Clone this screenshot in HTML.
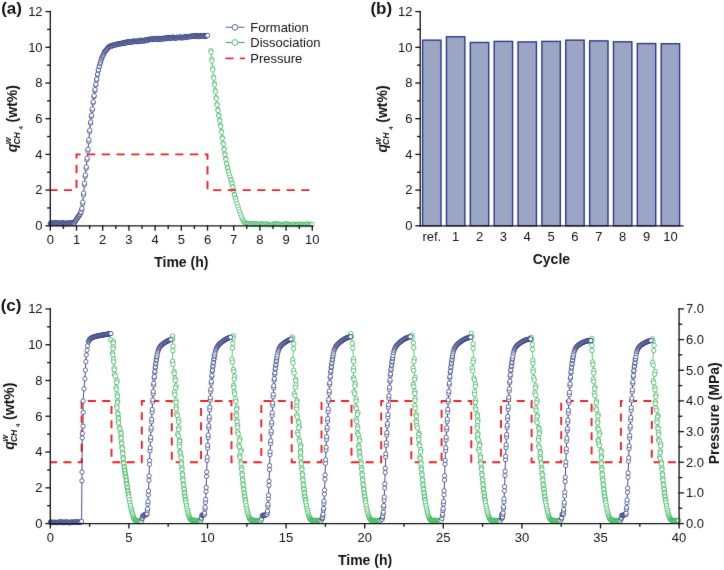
<!DOCTYPE html>
<html><head><meta charset="utf-8"><style>
html,body{margin:0;padding:0;background:#fff;width:724px;height:570px;overflow:hidden;}
svg{display:block;font-family:"Liberation Sans", sans-serif;}
</style></head><body>
<svg width="724" height="570" viewBox="0 0 724 570">
<defs><filter id="bl" x="0" y="0" width="724" height="570" filterUnits="userSpaceOnUse" color-interpolation-filters="sRGB"><feConvolveMatrix order="3" kernelMatrix="0.00524 0.06192 0.00524 0.06192 0.73137 0.06192 0.00524 0.06192 0.00524" edgeMode="duplicate"/></filter></defs>
<rect width="724" height="570" fill="#fff"/>
<g filter="url(#bl)">
<polyline fill="none" stroke="#1fae48" stroke-width="0.80"  points="210.90,50.50 211.77,59.33 212.65,68.19 213.52,76.97 214.39,83.60 215.27,90.42 216.14,97.53 217.01,103.98 217.89,109.63 218.76,114.95 219.63,119.92 220.51,125.27 221.38,131.18 222.25,137.34 223.13,143.32 224.00,148.72 224.87,153.79 225.75,158.62 226.62,163.20 227.49,167.34 228.37,171.07 229.24,174.35 230.11,177.09 230.99,179.74 231.86,182.89 232.73,186.62 233.61,190.46 234.48,194.35 235.35,197.83 236.23,200.88 237.10,203.72 237.97,206.50 238.85,209.19 239.72,211.79 240.59,214.26 241.47,216.68 242.34,218.85 243.21,220.68 244.09,221.99 244.96,222.75 245.83,223.24 246.71,223.50 247.58,223.39 248.45,223.74 249.33,223.78 250.20,224.27 251.07,223.75 251.95,223.65 252.82,224.41 253.69,224.08 254.57,223.79 255.44,224.12 256.31,223.72 257.19,224.13 258.06,224.51 258.93,224.42 259.81,224.30 260.68,223.96 261.55,224.06 262.43,223.91 263.30,224.40 264.17,224.22 265.05,224.43 265.92,224.08 266.79,224.00 267.67,224.48 268.54,224.63 269.41,224.53 270.29,224.50 271.16,224.52 272.03,224.46 272.91,224.06 273.78,224.30 274.65,224.18 275.53,223.92 276.40,223.93 277.27,224.13 278.15,224.12 279.02,224.47 279.89,224.69 280.77,224.29 281.64,224.68 282.51,224.73 283.39,224.71 284.26,224.24 285.13,224.13 286.01,224.14 286.88,224.12 287.75,224.13 288.63,224.46 289.50,224.69 290.37,224.64 291.25,224.36 292.12,224.50 292.99,224.62 293.87,224.05 294.74,224.51 295.61,224.71 296.49,224.61 297.36,224.59 298.23,224.37 299.11,224.13 299.98,224.62 300.85,224.26 301.73,224.64 302.60,224.77 303.47,224.31 304.35,224.32 305.22,224.76 306.09,224.58 306.97,224.13 307.84,224.10 308.71,224.12 309.59,224.72 310.46,224.65 311.33,224.12 312.21,224.66"/>
<g fill="#fff" stroke="#1fae48" stroke-width="0.62"><circle cx="210.90" cy="50.50" r="2.20"/><circle cx="211.06" cy="52.09" r="2.20"/><circle cx="211.77" cy="59.33" r="2.20"/><circle cx="211.93" cy="60.92" r="2.20"/><circle cx="212.65" cy="68.19" r="2.20"/><circle cx="212.80" cy="69.77" r="2.20"/><circle cx="213.52" cy="76.97" r="2.20"/><circle cx="213.68" cy="78.16" r="2.20"/><circle cx="214.39" cy="83.60" r="2.20"/><circle cx="214.55" cy="84.83" r="2.20"/><circle cx="215.27" cy="90.42" r="2.20"/><circle cx="215.42" cy="91.70" r="2.20"/><circle cx="216.14" cy="97.53" r="2.20"/><circle cx="216.30" cy="98.69" r="2.20"/><circle cx="217.01" cy="103.98" r="2.20"/><circle cx="217.17" cy="105.00" r="2.20"/><circle cx="217.89" cy="109.63" r="2.20"/><circle cx="218.04" cy="110.59" r="2.20"/><circle cx="218.76" cy="114.95" r="2.20"/><circle cx="218.92" cy="115.84" r="2.20"/><circle cx="219.63" cy="119.92" r="2.20"/><circle cx="219.79" cy="120.88" r="2.20"/><circle cx="220.51" cy="125.27" r="2.20"/><circle cx="220.66" cy="126.33" r="2.20"/><circle cx="221.38" cy="131.18" r="2.20"/><circle cx="221.54" cy="132.29" r="2.20"/><circle cx="222.25" cy="137.34" r="2.20"/><circle cx="222.41" cy="138.42" r="2.20"/><circle cx="223.13" cy="143.32" r="2.20"/><circle cx="223.28" cy="144.29" r="2.20"/><circle cx="224.00" cy="148.72" r="2.20"/><circle cx="224.16" cy="149.63" r="2.20"/><circle cx="224.87" cy="153.79" r="2.20"/><circle cx="225.03" cy="154.66" r="2.20"/><circle cx="225.75" cy="158.62" r="2.20"/><circle cx="225.90" cy="159.45" r="2.20"/><circle cx="226.62" cy="163.20" r="2.20"/><circle cx="226.78" cy="163.94" r="2.20"/><circle cx="227.49" cy="167.34" r="2.20"/><circle cx="227.65" cy="168.01" r="2.20"/><circle cx="228.37" cy="171.07" r="2.20"/><circle cx="228.52" cy="171.66" r="2.20"/><circle cx="229.24" cy="174.35" r="2.20"/><circle cx="230.11" cy="177.09" r="2.20"/><circle cx="230.99" cy="179.74" r="2.20"/><circle cx="231.14" cy="180.31" r="2.20"/><circle cx="231.86" cy="182.89" r="2.20"/><circle cx="232.02" cy="183.56" r="2.20"/><circle cx="232.73" cy="186.62" r="2.20"/><circle cx="232.89" cy="187.31" r="2.20"/><circle cx="233.61" cy="190.46" r="2.20"/><circle cx="233.76" cy="191.16" r="2.20"/><circle cx="234.48" cy="194.35" r="2.20"/><circle cx="234.64" cy="194.98" r="2.20"/><circle cx="235.35" cy="197.83" r="2.20"/><circle cx="235.51" cy="198.38" r="2.20"/><circle cx="236.23" cy="200.88" r="2.20"/><circle cx="237.10" cy="203.72" r="2.20"/><circle cx="237.97" cy="206.50" r="2.20"/><circle cx="238.85" cy="209.19" r="2.20"/><circle cx="239.72" cy="211.79" r="2.20"/><circle cx="240.59" cy="214.26" r="2.20"/><circle cx="241.47" cy="216.68" r="2.20"/><circle cx="242.34" cy="218.85" r="2.20"/><circle cx="243.21" cy="220.68" r="2.20"/><circle cx="244.09" cy="221.99" r="2.20"/><circle cx="244.96" cy="222.75" r="2.20"/><circle cx="245.83" cy="223.24" r="2.20"/><circle cx="246.71" cy="223.50" r="2.20"/><circle cx="247.58" cy="223.39" r="2.20"/><circle cx="248.45" cy="223.74" r="2.20"/><circle cx="249.33" cy="223.78" r="2.20"/><circle cx="250.20" cy="224.27" r="2.20"/><circle cx="251.07" cy="223.75" r="2.20"/><circle cx="251.95" cy="223.65" r="2.20"/><circle cx="252.82" cy="224.41" r="2.20"/><circle cx="253.69" cy="224.08" r="2.20"/><circle cx="254.57" cy="223.79" r="2.20"/><circle cx="255.44" cy="224.12" r="2.20"/><circle cx="256.31" cy="223.72" r="2.20"/><circle cx="257.19" cy="224.13" r="2.20"/><circle cx="258.06" cy="224.51" r="2.20"/><circle cx="258.93" cy="224.42" r="2.20"/><circle cx="259.81" cy="224.30" r="2.20"/><circle cx="260.68" cy="223.96" r="2.20"/><circle cx="261.55" cy="224.06" r="2.20"/><circle cx="262.43" cy="223.91" r="2.20"/><circle cx="263.30" cy="224.40" r="2.20"/><circle cx="264.17" cy="224.22" r="2.20"/><circle cx="265.05" cy="224.43" r="2.20"/><circle cx="265.92" cy="224.08" r="2.20"/><circle cx="266.79" cy="224.00" r="2.20"/><circle cx="267.67" cy="224.48" r="2.20"/><circle cx="268.54" cy="224.63" r="2.20"/><circle cx="269.41" cy="224.53" r="2.20"/><circle cx="270.29" cy="224.50" r="2.20"/><circle cx="271.16" cy="224.52" r="2.20"/><circle cx="272.03" cy="224.46" r="2.20"/><circle cx="272.91" cy="224.06" r="2.20"/><circle cx="273.78" cy="224.30" r="2.20"/><circle cx="274.65" cy="224.18" r="2.20"/><circle cx="275.53" cy="223.92" r="2.20"/><circle cx="276.40" cy="223.93" r="2.20"/><circle cx="277.27" cy="224.13" r="2.20"/><circle cx="278.15" cy="224.12" r="2.20"/><circle cx="279.02" cy="224.47" r="2.20"/><circle cx="279.89" cy="224.69" r="2.20"/><circle cx="280.77" cy="224.29" r="2.20"/><circle cx="281.64" cy="224.68" r="2.20"/><circle cx="282.51" cy="224.73" r="2.20"/><circle cx="283.39" cy="224.71" r="2.20"/><circle cx="284.26" cy="224.24" r="2.20"/><circle cx="285.13" cy="224.13" r="2.20"/><circle cx="286.01" cy="224.14" r="2.20"/><circle cx="286.88" cy="224.12" r="2.20"/><circle cx="287.75" cy="224.13" r="2.20"/><circle cx="288.63" cy="224.46" r="2.20"/><circle cx="289.50" cy="224.69" r="2.20"/><circle cx="290.37" cy="224.64" r="2.20"/><circle cx="291.25" cy="224.36" r="2.20"/><circle cx="292.12" cy="224.50" r="2.20"/><circle cx="292.99" cy="224.62" r="2.20"/><circle cx="293.87" cy="224.05" r="2.20"/><circle cx="294.74" cy="224.51" r="2.20"/><circle cx="295.61" cy="224.71" r="2.20"/><circle cx="296.49" cy="224.61" r="2.20"/><circle cx="297.36" cy="224.59" r="2.20"/><circle cx="298.23" cy="224.37" r="2.20"/><circle cx="299.11" cy="224.13" r="2.20"/><circle cx="299.98" cy="224.62" r="2.20"/><circle cx="300.85" cy="224.26" r="2.20"/><circle cx="301.73" cy="224.64" r="2.20"/><circle cx="302.60" cy="224.77" r="2.20"/><circle cx="303.47" cy="224.31" r="2.20"/><circle cx="304.35" cy="224.32" r="2.20"/><circle cx="305.22" cy="224.76" r="2.20"/><circle cx="306.09" cy="224.58" r="2.20"/><circle cx="306.97" cy="224.13" r="2.20"/><circle cx="307.84" cy="224.10" r="2.20"/><circle cx="308.71" cy="224.12" r="2.20"/><circle cx="309.59" cy="224.72" r="2.20"/><circle cx="310.46" cy="224.65" r="2.20"/><circle cx="311.33" cy="224.12" r="2.20"/><circle cx="312.21" cy="224.66" r="2.20"/></g>
<polyline fill="none" stroke="#16236c" stroke-width="0.80"  points="50.30,223.24 51.17,223.09 52.05,223.54 52.92,223.01 53.79,223.43 54.67,223.28 55.54,223.00 56.41,223.40 57.29,222.98 58.16,223.33 59.03,223.01 59.91,223.02 60.78,223.32 61.65,223.68 62.53,223.04 63.40,223.13 64.27,223.49 65.15,223.77 66.02,223.44 66.89,223.27 67.77,223.78 68.64,222.94 69.51,223.66 70.39,223.14 71.26,223.00 72.13,222.97 73.01,223.13 73.88,223.40 74.75,221.95 75.63,220.68 76.50,219.30 77.37,218.07 78.25,216.87 79.12,215.76 79.99,214.41 80.87,212.50 81.74,209.46 82.61,203.74 83.49,194.95 84.36,184.72 85.23,176.35 86.11,168.48 86.98,159.70 87.85,151.02 88.73,141.54 89.60,131.70 90.47,123.24 91.35,116.53 92.22,110.21 93.09,102.79 93.97,96.73 94.84,90.56 95.71,85.19 96.59,79.94 97.46,74.88 98.33,70.40 99.21,66.68 100.08,63.52 100.95,60.64 101.83,58.06 102.70,55.89 103.57,54.00 104.45,52.15 105.32,51.18 106.19,50.08 107.07,48.78 107.94,48.09 108.81,47.03 109.69,46.49 110.56,46.17 111.43,46.20 112.31,45.62 113.18,45.19 114.05,45.14 114.93,44.75 115.80,44.37 116.67,44.58 117.55,44.28 118.42,43.67 119.29,43.78 120.17,43.55 121.04,43.69 121.91,43.40 122.79,42.84 123.66,43.31 124.53,42.39 125.41,42.52 126.28,42.69 127.15,42.01 128.03,42.19 128.90,41.66 129.77,42.11 130.65,42.08 131.52,41.80 132.39,41.97 133.27,41.36 134.14,41.61 135.01,41.42 135.89,41.31 136.76,41.10 137.63,41.35 138.51,41.34 139.38,40.82 140.25,40.89 141.13,40.25 142.00,40.73 142.87,40.58 143.75,40.80 144.62,40.55 145.49,39.97 146.37,39.97 147.24,40.13 148.11,39.45 148.99,39.76 149.86,39.40 150.73,39.27 151.61,39.13 152.48,39.68 153.35,39.03 154.23,39.05 155.10,39.10 155.97,39.45 156.85,38.67 157.72,38.92 158.59,38.93 159.47,39.16 160.34,39.03 161.21,39.00 162.09,38.40 162.96,38.45 163.83,38.33 164.71,38.74 165.58,38.73 166.45,37.94 167.33,37.90 168.20,37.89 169.07,37.83 169.95,37.99 170.82,38.02 171.69,37.67 172.57,37.38 173.44,37.70 174.31,37.60 175.19,37.72 176.06,38.01 176.93,37.72 177.81,37.51 178.68,37.55 179.55,37.56 180.43,36.94 181.30,37.66 182.17,37.50 183.05,37.53 183.92,37.41 184.79,37.00 185.67,36.96 186.54,36.64 187.41,37.07 188.29,36.50 189.16,36.46 190.03,36.54 190.91,36.44 191.78,36.55 192.65,36.24 193.53,36.15 194.40,36.23 195.27,36.14 196.15,36.33 197.02,35.97 197.89,36.69 198.77,36.40 199.64,35.94 200.51,35.98 201.39,36.02 202.26,35.99 203.13,35.72 204.01,36.33 204.88,36.41 205.75,35.89 206.63,35.85 207.50,35.45"/>
<g fill="#fff" stroke="#16236c" stroke-width="0.62"><circle cx="50.30" cy="223.24" r="2.20"/><circle cx="50.74" cy="223.64" r="2.20"/><circle cx="51.17" cy="223.09" r="2.20"/><circle cx="51.61" cy="223.47" r="2.20"/><circle cx="52.05" cy="223.54" r="2.20"/><circle cx="52.48" cy="223.13" r="2.20"/><circle cx="52.92" cy="223.01" r="2.20"/><circle cx="53.36" cy="223.27" r="2.20"/><circle cx="53.79" cy="223.43" r="2.20"/><circle cx="54.23" cy="222.99" r="2.20"/><circle cx="54.67" cy="223.28" r="2.20"/><circle cx="55.10" cy="222.65" r="2.20"/><circle cx="55.54" cy="223.00" r="2.20"/><circle cx="55.98" cy="223.67" r="2.20"/><circle cx="56.41" cy="223.40" r="2.20"/><circle cx="56.85" cy="223.34" r="2.20"/><circle cx="57.29" cy="222.98" r="2.20"/><circle cx="57.72" cy="223.18" r="2.20"/><circle cx="58.16" cy="223.33" r="2.20"/><circle cx="58.60" cy="223.60" r="2.20"/><circle cx="59.03" cy="223.01" r="2.20"/><circle cx="59.47" cy="222.95" r="2.20"/><circle cx="59.91" cy="223.02" r="2.20"/><circle cx="60.34" cy="223.54" r="2.20"/><circle cx="60.78" cy="223.32" r="2.20"/><circle cx="61.22" cy="223.83" r="2.20"/><circle cx="61.65" cy="223.68" r="2.20"/><circle cx="62.09" cy="223.07" r="2.20"/><circle cx="62.53" cy="223.04" r="2.20"/><circle cx="62.96" cy="222.84" r="2.20"/><circle cx="63.40" cy="223.13" r="2.20"/><circle cx="63.84" cy="223.10" r="2.20"/><circle cx="64.27" cy="223.49" r="2.20"/><circle cx="64.71" cy="223.37" r="2.20"/><circle cx="65.15" cy="223.77" r="2.20"/><circle cx="65.58" cy="223.69" r="2.20"/><circle cx="66.02" cy="223.44" r="2.20"/><circle cx="66.46" cy="223.11" r="2.20"/><circle cx="66.89" cy="223.27" r="2.20"/><circle cx="67.33" cy="223.44" r="2.20"/><circle cx="67.77" cy="223.78" r="2.20"/><circle cx="68.20" cy="222.99" r="2.20"/><circle cx="68.64" cy="222.94" r="2.20"/><circle cx="69.08" cy="223.71" r="2.20"/><circle cx="69.51" cy="223.66" r="2.20"/><circle cx="69.95" cy="223.26" r="2.20"/><circle cx="70.39" cy="223.14" r="2.20"/><circle cx="70.82" cy="223.03" r="2.20"/><circle cx="71.26" cy="223.00" r="2.20"/><circle cx="71.70" cy="223.07" r="2.20"/><circle cx="72.13" cy="222.97" r="2.20"/><circle cx="72.57" cy="223.46" r="2.20"/><circle cx="73.01" cy="223.13" r="2.20"/><circle cx="73.44" cy="223.19" r="2.20"/><circle cx="73.88" cy="223.40" r="2.20"/><circle cx="74.32" cy="223.09" r="2.20"/><circle cx="74.75" cy="221.95" r="2.20"/><circle cx="75.19" cy="221.31" r="2.20"/><circle cx="75.63" cy="220.68" r="2.20"/><circle cx="76.06" cy="220.02" r="2.20"/><circle cx="76.50" cy="219.30" r="2.20"/><circle cx="76.94" cy="218.71" r="2.20"/><circle cx="77.37" cy="218.07" r="2.20"/><circle cx="77.81" cy="216.99" r="2.20"/><circle cx="78.25" cy="216.87" r="2.20"/><circle cx="78.68" cy="216.25" r="2.20"/><circle cx="79.12" cy="215.76" r="2.20"/><circle cx="79.56" cy="214.77" r="2.20"/><circle cx="79.99" cy="214.41" r="2.20"/><circle cx="80.43" cy="212.96" r="2.20"/><circle cx="80.87" cy="212.50" r="2.20"/><circle cx="81.02" cy="211.96" r="2.20"/><circle cx="81.74" cy="209.46" r="2.20"/><circle cx="81.90" cy="208.43" r="2.20"/><circle cx="82.61" cy="203.74" r="2.20"/><circle cx="82.77" cy="202.15" r="2.20"/><circle cx="83.49" cy="194.95" r="2.20"/><circle cx="83.64" cy="193.11" r="2.20"/><circle cx="84.36" cy="184.72" r="2.20"/><circle cx="84.52" cy="183.22" r="2.20"/><circle cx="85.23" cy="176.35" r="2.20"/><circle cx="85.39" cy="174.94" r="2.20"/><circle cx="86.11" cy="168.48" r="2.20"/><circle cx="86.26" cy="166.90" r="2.20"/><circle cx="86.98" cy="159.70" r="2.20"/><circle cx="87.14" cy="158.14" r="2.20"/><circle cx="87.85" cy="151.02" r="2.20"/><circle cx="88.01" cy="149.31" r="2.20"/><circle cx="88.73" cy="141.54" r="2.20"/><circle cx="88.88" cy="139.76" r="2.20"/><circle cx="89.60" cy="131.70" r="2.20"/><circle cx="89.76" cy="130.17" r="2.20"/><circle cx="90.47" cy="123.24" r="2.20"/><circle cx="90.63" cy="122.03" r="2.20"/><circle cx="91.35" cy="116.53" r="2.20"/><circle cx="91.50" cy="115.39" r="2.20"/><circle cx="92.22" cy="110.21" r="2.20"/><circle cx="92.38" cy="108.87" r="2.20"/><circle cx="93.09" cy="102.79" r="2.20"/><circle cx="93.25" cy="101.70" r="2.20"/><circle cx="93.97" cy="96.73" r="2.20"/><circle cx="94.12" cy="95.62" r="2.20"/><circle cx="94.84" cy="90.56" r="2.20"/><circle cx="95.00" cy="89.59" r="2.20"/><circle cx="95.71" cy="85.19" r="2.20"/><circle cx="95.87" cy="84.25" r="2.20"/><circle cx="96.59" cy="79.94" r="2.20"/><circle cx="96.74" cy="79.03" r="2.20"/><circle cx="97.46" cy="74.88" r="2.20"/><circle cx="97.62" cy="74.07" r="2.20"/><circle cx="98.33" cy="70.40" r="2.20"/><circle cx="98.49" cy="69.73" r="2.20"/><circle cx="99.21" cy="66.68" r="2.20"/><circle cx="99.36" cy="66.11" r="2.20"/><circle cx="100.08" cy="63.52" r="2.20"/><circle cx="100.52" cy="62.38" r="2.20"/><circle cx="100.95" cy="60.64" r="2.20"/><circle cx="101.39" cy="59.02" r="2.20"/><circle cx="101.83" cy="58.06" r="2.20"/><circle cx="102.26" cy="56.95" r="2.20"/><circle cx="102.70" cy="55.89" r="2.20"/><circle cx="103.14" cy="55.17" r="2.20"/><circle cx="103.57" cy="54.00" r="2.20"/><circle cx="104.01" cy="53.13" r="2.20"/><circle cx="104.45" cy="52.15" r="2.20"/><circle cx="104.88" cy="51.49" r="2.20"/><circle cx="105.32" cy="51.18" r="2.20"/><circle cx="105.76" cy="50.65" r="2.20"/><circle cx="106.19" cy="50.08" r="2.20"/><circle cx="106.63" cy="49.49" r="2.20"/><circle cx="107.07" cy="48.78" r="2.20"/><circle cx="107.50" cy="48.72" r="2.20"/><circle cx="107.94" cy="48.09" r="2.20"/><circle cx="108.38" cy="47.17" r="2.20"/><circle cx="108.81" cy="47.03" r="2.20"/><circle cx="109.25" cy="46.82" r="2.20"/><circle cx="109.69" cy="46.49" r="2.20"/><circle cx="110.12" cy="46.08" r="2.20"/><circle cx="110.56" cy="46.17" r="2.20"/><circle cx="111.00" cy="45.96" r="2.20"/><circle cx="111.43" cy="46.20" r="2.20"/><circle cx="111.87" cy="46.18" r="2.20"/><circle cx="112.31" cy="45.62" r="2.20"/><circle cx="112.74" cy="45.41" r="2.20"/><circle cx="113.18" cy="45.19" r="2.20"/><circle cx="113.62" cy="45.23" r="2.20"/><circle cx="114.05" cy="45.14" r="2.20"/><circle cx="114.49" cy="45.21" r="2.20"/><circle cx="114.93" cy="44.75" r="2.20"/><circle cx="115.36" cy="44.97" r="2.20"/><circle cx="115.80" cy="44.37" r="2.20"/><circle cx="116.24" cy="44.42" r="2.20"/><circle cx="116.67" cy="44.58" r="2.20"/><circle cx="117.11" cy="44.55" r="2.20"/><circle cx="117.55" cy="44.28" r="2.20"/><circle cx="117.98" cy="43.99" r="2.20"/><circle cx="118.42" cy="43.67" r="2.20"/><circle cx="118.86" cy="43.74" r="2.20"/><circle cx="119.29" cy="43.78" r="2.20"/><circle cx="119.73" cy="43.86" r="2.20"/><circle cx="120.17" cy="43.55" r="2.20"/><circle cx="120.60" cy="43.58" r="2.20"/><circle cx="121.04" cy="43.69" r="2.20"/><circle cx="121.48" cy="43.58" r="2.20"/><circle cx="121.91" cy="43.40" r="2.20"/><circle cx="122.35" cy="43.10" r="2.20"/><circle cx="122.79" cy="42.84" r="2.20"/><circle cx="123.22" cy="43.52" r="2.20"/><circle cx="123.66" cy="43.31" r="2.20"/><circle cx="124.10" cy="43.05" r="2.20"/><circle cx="124.53" cy="42.39" r="2.20"/><circle cx="124.97" cy="42.83" r="2.20"/><circle cx="125.41" cy="42.52" r="2.20"/><circle cx="125.84" cy="43.04" r="2.20"/><circle cx="126.28" cy="42.69" r="2.20"/><circle cx="126.72" cy="42.11" r="2.20"/><circle cx="127.15" cy="42.01" r="2.20"/><circle cx="127.59" cy="42.16" r="2.20"/><circle cx="128.03" cy="42.19" r="2.20"/><circle cx="128.46" cy="42.37" r="2.20"/><circle cx="128.90" cy="41.66" r="2.20"/><circle cx="129.34" cy="42.22" r="2.20"/><circle cx="129.77" cy="42.11" r="2.20"/><circle cx="130.21" cy="41.73" r="2.20"/><circle cx="130.65" cy="42.08" r="2.20"/><circle cx="131.08" cy="41.56" r="2.20"/><circle cx="131.52" cy="41.80" r="2.20"/><circle cx="131.96" cy="41.83" r="2.20"/><circle cx="132.39" cy="41.97" r="2.20"/><circle cx="132.83" cy="41.24" r="2.20"/><circle cx="133.27" cy="41.36" r="2.20"/><circle cx="133.70" cy="41.23" r="2.20"/><circle cx="134.14" cy="41.61" r="2.20"/><circle cx="134.58" cy="41.09" r="2.20"/><circle cx="135.01" cy="41.42" r="2.20"/><circle cx="135.45" cy="41.53" r="2.20"/><circle cx="135.89" cy="41.31" r="2.20"/><circle cx="136.32" cy="41.49" r="2.20"/><circle cx="136.76" cy="41.10" r="2.20"/><circle cx="137.20" cy="41.62" r="2.20"/><circle cx="137.63" cy="41.35" r="2.20"/><circle cx="138.07" cy="41.00" r="2.20"/><circle cx="138.51" cy="41.34" r="2.20"/><circle cx="138.94" cy="41.30" r="2.20"/><circle cx="139.38" cy="40.82" r="2.20"/><circle cx="139.82" cy="41.02" r="2.20"/><circle cx="140.25" cy="40.89" r="2.20"/><circle cx="140.69" cy="40.22" r="2.20"/><circle cx="141.13" cy="40.25" r="2.20"/><circle cx="141.56" cy="40.87" r="2.20"/><circle cx="142.00" cy="40.73" r="2.20"/><circle cx="142.44" cy="41.12" r="2.20"/><circle cx="142.87" cy="40.58" r="2.20"/><circle cx="143.31" cy="40.41" r="2.20"/><circle cx="143.75" cy="40.80" r="2.20"/><circle cx="144.18" cy="41.13" r="2.20"/><circle cx="144.62" cy="40.55" r="2.20"/><circle cx="145.06" cy="40.16" r="2.20"/><circle cx="145.49" cy="39.97" r="2.20"/><circle cx="145.93" cy="39.95" r="2.20"/><circle cx="146.37" cy="39.97" r="2.20"/><circle cx="146.80" cy="40.54" r="2.20"/><circle cx="147.24" cy="40.13" r="2.20"/><circle cx="147.68" cy="40.12" r="2.20"/><circle cx="148.11" cy="39.45" r="2.20"/><circle cx="148.55" cy="39.27" r="2.20"/><circle cx="148.99" cy="39.76" r="2.20"/><circle cx="149.42" cy="39.51" r="2.20"/><circle cx="149.86" cy="39.40" r="2.20"/><circle cx="150.30" cy="39.35" r="2.20"/><circle cx="150.73" cy="39.27" r="2.20"/><circle cx="151.17" cy="39.04" r="2.20"/><circle cx="151.61" cy="39.13" r="2.20"/><circle cx="152.04" cy="39.10" r="2.20"/><circle cx="152.48" cy="39.68" r="2.20"/><circle cx="152.92" cy="39.17" r="2.20"/><circle cx="153.35" cy="39.03" r="2.20"/><circle cx="153.79" cy="39.26" r="2.20"/><circle cx="154.23" cy="39.05" r="2.20"/><circle cx="154.66" cy="38.60" r="2.20"/><circle cx="155.10" cy="39.10" r="2.20"/><circle cx="155.54" cy="39.33" r="2.20"/><circle cx="155.97" cy="39.45" r="2.20"/><circle cx="156.41" cy="39.00" r="2.20"/><circle cx="156.85" cy="38.67" r="2.20"/><circle cx="157.28" cy="38.31" r="2.20"/><circle cx="157.72" cy="38.92" r="2.20"/><circle cx="158.16" cy="38.76" r="2.20"/><circle cx="158.59" cy="38.93" r="2.20"/><circle cx="159.03" cy="39.17" r="2.20"/><circle cx="159.47" cy="39.16" r="2.20"/><circle cx="159.90" cy="39.11" r="2.20"/><circle cx="160.34" cy="39.03" r="2.20"/><circle cx="160.78" cy="38.58" r="2.20"/><circle cx="161.21" cy="39.00" r="2.20"/><circle cx="161.65" cy="39.18" r="2.20"/><circle cx="162.09" cy="38.40" r="2.20"/><circle cx="162.52" cy="38.71" r="2.20"/><circle cx="162.96" cy="38.45" r="2.20"/><circle cx="163.40" cy="38.86" r="2.20"/><circle cx="163.83" cy="38.33" r="2.20"/><circle cx="164.27" cy="38.14" r="2.20"/><circle cx="164.71" cy="38.74" r="2.20"/><circle cx="165.14" cy="38.50" r="2.20"/><circle cx="165.58" cy="38.73" r="2.20"/><circle cx="166.02" cy="37.88" r="2.20"/><circle cx="166.45" cy="37.94" r="2.20"/><circle cx="166.89" cy="38.20" r="2.20"/><circle cx="167.33" cy="37.90" r="2.20"/><circle cx="167.76" cy="37.66" r="2.20"/><circle cx="168.20" cy="37.89" r="2.20"/><circle cx="168.64" cy="37.49" r="2.20"/><circle cx="169.07" cy="37.83" r="2.20"/><circle cx="169.51" cy="37.83" r="2.20"/><circle cx="169.95" cy="37.99" r="2.20"/><circle cx="170.38" cy="38.42" r="2.20"/><circle cx="170.82" cy="38.02" r="2.20"/><circle cx="171.26" cy="38.17" r="2.20"/><circle cx="171.69" cy="37.67" r="2.20"/><circle cx="172.13" cy="37.28" r="2.20"/><circle cx="172.57" cy="37.38" r="2.20"/><circle cx="173.00" cy="37.19" r="2.20"/><circle cx="173.44" cy="37.70" r="2.20"/><circle cx="173.88" cy="38.07" r="2.20"/><circle cx="174.31" cy="37.60" r="2.20"/><circle cx="174.75" cy="37.73" r="2.20"/><circle cx="175.19" cy="37.72" r="2.20"/><circle cx="175.62" cy="38.07" r="2.20"/><circle cx="176.06" cy="38.01" r="2.20"/><circle cx="176.50" cy="37.46" r="2.20"/><circle cx="176.93" cy="37.72" r="2.20"/><circle cx="177.37" cy="37.18" r="2.20"/><circle cx="177.81" cy="37.51" r="2.20"/><circle cx="178.24" cy="37.72" r="2.20"/><circle cx="178.68" cy="37.55" r="2.20"/><circle cx="179.12" cy="37.48" r="2.20"/><circle cx="179.55" cy="37.56" r="2.20"/><circle cx="179.99" cy="36.82" r="2.20"/><circle cx="180.43" cy="36.94" r="2.20"/><circle cx="180.86" cy="37.74" r="2.20"/><circle cx="181.30" cy="37.66" r="2.20"/><circle cx="181.74" cy="37.71" r="2.20"/><circle cx="182.17" cy="37.50" r="2.20"/><circle cx="182.61" cy="37.82" r="2.20"/><circle cx="183.05" cy="37.53" r="2.20"/><circle cx="183.48" cy="37.06" r="2.20"/><circle cx="183.92" cy="37.41" r="2.20"/><circle cx="184.36" cy="37.56" r="2.20"/><circle cx="184.79" cy="37.00" r="2.20"/><circle cx="185.23" cy="36.54" r="2.20"/><circle cx="185.67" cy="36.96" r="2.20"/><circle cx="186.10" cy="37.16" r="2.20"/><circle cx="186.54" cy="36.64" r="2.20"/><circle cx="186.98" cy="36.81" r="2.20"/><circle cx="187.41" cy="37.07" r="2.20"/><circle cx="187.85" cy="36.63" r="2.20"/><circle cx="188.29" cy="36.50" r="2.20"/><circle cx="188.72" cy="36.53" r="2.20"/><circle cx="189.16" cy="36.46" r="2.20"/><circle cx="189.60" cy="36.92" r="2.20"/><circle cx="190.03" cy="36.54" r="2.20"/><circle cx="190.47" cy="36.26" r="2.20"/><circle cx="190.91" cy="36.44" r="2.20"/><circle cx="191.34" cy="36.13" r="2.20"/><circle cx="191.78" cy="36.55" r="2.20"/><circle cx="192.22" cy="36.43" r="2.20"/><circle cx="192.65" cy="36.24" r="2.20"/><circle cx="193.09" cy="35.93" r="2.20"/><circle cx="193.53" cy="36.15" r="2.20"/><circle cx="193.96" cy="35.80" r="2.20"/><circle cx="194.40" cy="36.23" r="2.20"/><circle cx="194.84" cy="35.85" r="2.20"/><circle cx="195.27" cy="36.14" r="2.20"/><circle cx="195.71" cy="35.78" r="2.20"/><circle cx="196.15" cy="36.33" r="2.20"/><circle cx="196.58" cy="35.85" r="2.20"/><circle cx="197.02" cy="35.97" r="2.20"/><circle cx="197.46" cy="36.14" r="2.20"/><circle cx="197.89" cy="36.69" r="2.20"/><circle cx="198.33" cy="36.35" r="2.20"/><circle cx="198.77" cy="36.40" r="2.20"/><circle cx="199.20" cy="36.43" r="2.20"/><circle cx="199.64" cy="35.94" r="2.20"/><circle cx="200.08" cy="35.75" r="2.20"/><circle cx="200.51" cy="35.98" r="2.20"/><circle cx="200.95" cy="36.00" r="2.20"/><circle cx="201.39" cy="36.02" r="2.20"/><circle cx="201.82" cy="35.68" r="2.20"/><circle cx="202.26" cy="35.99" r="2.20"/><circle cx="202.70" cy="35.70" r="2.20"/><circle cx="203.13" cy="35.72" r="2.20"/><circle cx="203.57" cy="35.54" r="2.20"/><circle cx="204.01" cy="36.33" r="2.20"/><circle cx="204.44" cy="36.12" r="2.20"/><circle cx="204.88" cy="36.41" r="2.20"/><circle cx="205.32" cy="35.66" r="2.20"/><circle cx="205.75" cy="35.89" r="2.20"/><circle cx="206.19" cy="36.10" r="2.20"/><circle cx="206.63" cy="35.85" r="2.20"/><circle cx="207.06" cy="35.70" r="2.20"/><circle cx="207.50" cy="35.45" r="2.20"/></g>
<polyline fill="none" stroke="#fa1e24" stroke-width="1.90" stroke-dasharray="8.2,6.5" stroke-dashoffset="1.0" points="50.30,190.10 76.50,190.10 76.50,154.40 207.50,154.40 207.50,190.10 312.30,190.10"/>
<g stroke="#181818" stroke-width="1.35" stroke-linecap="square"><line x1="50.30" y1="11.60" x2="50.30" y2="225.80"/><line x1="50.30" y1="225.80" x2="46.10" y2="225.80"/><line x1="50.30" y1="190.10" x2="46.10" y2="190.10"/><line x1="50.30" y1="154.40" x2="46.10" y2="154.40"/><line x1="50.30" y1="118.70" x2="46.10" y2="118.70"/><line x1="50.30" y1="83.00" x2="46.10" y2="83.00"/><line x1="50.30" y1="47.30" x2="46.10" y2="47.30"/><line x1="50.30" y1="11.60" x2="46.10" y2="11.60"/><line x1="50.30" y1="207.95" x2="47.80" y2="207.95"/><line x1="50.30" y1="172.25" x2="47.80" y2="172.25"/><line x1="50.30" y1="136.55" x2="47.80" y2="136.55"/><line x1="50.30" y1="100.85" x2="47.80" y2="100.85"/><line x1="50.30" y1="65.15" x2="47.80" y2="65.15"/><line x1="50.30" y1="29.45" x2="47.80" y2="29.45"/><line x1="50.30" y1="225.80" x2="312.30" y2="225.80"/><line x1="50.30" y1="225.80" x2="50.30" y2="230.00"/><line x1="76.50" y1="225.80" x2="76.50" y2="230.00"/><line x1="102.70" y1="225.80" x2="102.70" y2="230.00"/><line x1="128.90" y1="225.80" x2="128.90" y2="230.00"/><line x1="155.10" y1="225.80" x2="155.10" y2="230.00"/><line x1="181.30" y1="225.80" x2="181.30" y2="230.00"/><line x1="207.50" y1="225.80" x2="207.50" y2="230.00"/><line x1="233.70" y1="225.80" x2="233.70" y2="230.00"/><line x1="259.90" y1="225.80" x2="259.90" y2="230.00"/><line x1="286.10" y1="225.80" x2="286.10" y2="230.00"/><line x1="312.30" y1="225.80" x2="312.30" y2="230.00"/><line x1="63.40" y1="225.80" x2="63.40" y2="228.30"/><line x1="89.60" y1="225.80" x2="89.60" y2="228.30"/><line x1="115.80" y1="225.80" x2="115.80" y2="228.30"/><line x1="142.00" y1="225.80" x2="142.00" y2="228.30"/><line x1="168.20" y1="225.80" x2="168.20" y2="228.30"/><line x1="194.40" y1="225.80" x2="194.40" y2="228.30"/><line x1="220.60" y1="225.80" x2="220.60" y2="228.30"/><line x1="246.80" y1="225.80" x2="246.80" y2="228.30"/><line x1="273.00" y1="225.80" x2="273.00" y2="228.30"/><line x1="299.20" y1="225.80" x2="299.20" y2="228.30"/></g>
<line x1="225.7" y1="27.3" x2="244.5" y2="27.3" stroke="#6b78b2" stroke-width="1.2"/>
<circle cx="235" cy="27.3" r="2.9" fill="#fff" stroke="#4a589e" stroke-width="0.9"/>
<line x1="225.7" y1="42.5" x2="244.5" y2="42.5" stroke="#40b65c" stroke-width="1.2"/>
<circle cx="235" cy="42.5" r="2.9" fill="#fff" stroke="#45b962" stroke-width="0.9"/>
<line x1="225.3" y1="58.4" x2="233.6" y2="58.4" stroke="#fa1e24" stroke-width="1.6"/>
<line x1="239.8" y1="58.4" x2="245" y2="58.4" stroke="#fa1e24" stroke-width="1.6"/>
<rect x="422.60" y="40.16" width="18.4" height="185.64" fill="#9ba5c4" stroke="#2b3c8a" stroke-width="1.4"/>
<rect x="446.46" y="36.77" width="18.4" height="189.03" fill="#9ba5c4" stroke="#2b3c8a" stroke-width="1.4"/>
<rect x="470.32" y="42.48" width="18.4" height="183.32" fill="#9ba5c4" stroke="#2b3c8a" stroke-width="1.4"/>
<rect x="494.18" y="41.41" width="18.4" height="184.39" fill="#9ba5c4" stroke="#2b3c8a" stroke-width="1.4"/>
<rect x="518.04" y="41.94" width="18.4" height="183.86" fill="#9ba5c4" stroke="#2b3c8a" stroke-width="1.4"/>
<rect x="541.90" y="41.41" width="18.4" height="184.39" fill="#9ba5c4" stroke="#2b3c8a" stroke-width="1.4"/>
<rect x="565.76" y="40.16" width="18.4" height="185.64" fill="#9ba5c4" stroke="#2b3c8a" stroke-width="1.4"/>
<rect x="589.62" y="40.87" width="18.4" height="184.93" fill="#9ba5c4" stroke="#2b3c8a" stroke-width="1.4"/>
<rect x="613.48" y="41.77" width="18.4" height="184.03" fill="#9ba5c4" stroke="#2b3c8a" stroke-width="1.4"/>
<rect x="637.34" y="43.55" width="18.4" height="182.25" fill="#9ba5c4" stroke="#2b3c8a" stroke-width="1.4"/>
<rect x="661.20" y="43.73" width="18.4" height="182.07" fill="#9ba5c4" stroke="#2b3c8a" stroke-width="1.4"/>
<g stroke="#181818" stroke-width="1.35" stroke-linecap="square"><line x1="420.20" y1="11.60" x2="420.20" y2="225.80"/><line x1="420.20" y1="225.80" x2="416.00" y2="225.80"/><line x1="420.20" y1="190.10" x2="416.00" y2="190.10"/><line x1="420.20" y1="154.40" x2="416.00" y2="154.40"/><line x1="420.20" y1="118.70" x2="416.00" y2="118.70"/><line x1="420.20" y1="83.00" x2="416.00" y2="83.00"/><line x1="420.20" y1="47.30" x2="416.00" y2="47.30"/><line x1="420.20" y1="11.60" x2="416.00" y2="11.60"/><line x1="420.20" y1="207.95" x2="417.70" y2="207.95"/><line x1="420.20" y1="172.25" x2="417.70" y2="172.25"/><line x1="420.20" y1="136.55" x2="417.70" y2="136.55"/><line x1="420.20" y1="100.85" x2="417.70" y2="100.85"/><line x1="420.20" y1="65.15" x2="417.70" y2="65.15"/><line x1="420.20" y1="29.45" x2="417.70" y2="29.45"/><line x1="420.20" y1="225.80" x2="683.00" y2="225.80"/></g>
<polyline fill="none" stroke="#fa1e24" stroke-width="1.90" stroke-dasharray="8.0,6.305" stroke-dashoffset="1.2" points="50.30,462.26 81.60,462.26 81.60,400.93 111.50,400.93 111.50,462.26 141.80,462.26 141.80,400.93 171.80,400.93 171.80,462.26 201.00,462.26 201.00,400.93 231.50,400.93 231.50,462.26 261.30,462.26 261.30,400.93 291.70,400.93 291.70,462.26 321.50,462.26 321.50,400.93 351.50,400.93 351.50,462.26 381.20,462.26 381.20,400.93 411.30,400.93 411.30,462.26 441.60,462.26 441.60,400.93 471.30,400.93 471.30,462.26 501.00,462.26 501.00,400.93 531.60,400.93 531.60,462.26 561.20,462.26 561.20,400.93 591.60,400.93 591.60,462.26 620.90,462.26 620.90,400.93 651.80,400.93 651.80,462.26 679.10,462.26"/>
<polyline fill="none" stroke="#1fae48" stroke-width="0.70"  points="110.81,339.71 113.27,341.58 113.24,347.01 112.54,353.19 113.55,359.17 114.11,367.89 114.48,374.38 117.00,380.45 115.99,387.27 117.29,394.72 117.64,401.10 116.77,405.95 117.75,412.73 118.40,417.36 118.17,421.14 119.36,427.45 120.98,432.32 121.01,436.92 121.53,442.04 122.06,447.15 122.58,452.24 123.10,457.45 123.63,462.29 124.15,466.35 124.68,469.92 125.20,473.23 125.72,476.46 126.25,479.82 126.77,483.35 127.30,486.94 127.82,490.46 128.34,493.78 128.87,496.84 129.39,499.83 129.92,502.73 130.44,505.47 130.96,507.98 131.49,510.20 132.01,512.14 132.54,513.88 133.06,515.83 133.58,517.40 134.11,518.72 134.63,519.42 135.16,520.50 135.68,520.43 136.20,521.30 136.73,521.47 137.25,520.88 137.78,521.21 138.30,521.49 138.82,521.61 139.35,521.27 139.87,521.16 140.40,521.14 140.92,521.67 141.44,521.18"/>
<g fill="#fff" stroke="#1fae48" stroke-width="0.70"><circle cx="110.81" cy="339.71" r="2.25"/><circle cx="113.27" cy="341.58" r="2.25"/><circle cx="113.26" cy="343.21" r="2.25"/><circle cx="113.24" cy="347.01" r="2.25"/><circle cx="113.03" cy="348.86" r="2.25"/><circle cx="112.54" cy="353.19" r="2.25"/><circle cx="112.85" cy="354.99" r="2.25"/><circle cx="113.55" cy="359.17" r="2.25"/><circle cx="113.72" cy="361.79" r="2.25"/><circle cx="114.11" cy="367.89" r="2.25"/><circle cx="114.22" cy="369.83" r="2.25"/><circle cx="114.48" cy="374.38" r="2.25"/><circle cx="115.24" cy="376.20" r="2.25"/><circle cx="117.00" cy="380.45" r="2.25"/><circle cx="116.70" cy="382.49" r="2.25"/><circle cx="115.99" cy="387.27" r="2.25"/><circle cx="116.38" cy="389.50" r="2.25"/><circle cx="117.29" cy="394.72" r="2.25"/><circle cx="117.40" cy="396.63" r="2.25"/><circle cx="117.64" cy="401.10" r="2.25"/><circle cx="117.38" cy="402.55" r="2.25"/><circle cx="116.77" cy="405.95" r="2.25"/><circle cx="117.06" cy="407.98" r="2.25"/><circle cx="117.75" cy="412.73" r="2.25"/><circle cx="117.94" cy="414.11" r="2.25"/><circle cx="118.40" cy="417.36" r="2.25"/><circle cx="118.33" cy="418.49" r="2.25"/><circle cx="118.17" cy="421.14" r="2.25"/><circle cx="118.53" cy="423.03" r="2.25"/><circle cx="119.36" cy="427.45" r="2.25"/><circle cx="119.85" cy="428.91" r="2.25"/><circle cx="120.98" cy="432.32" r="2.25"/><circle cx="120.99" cy="433.70" r="2.25"/><circle cx="121.01" cy="436.92" r="2.25"/><circle cx="121.17" cy="438.46" r="2.25"/><circle cx="121.53" cy="442.04" r="2.25"/><circle cx="121.69" cy="443.57" r="2.25"/><circle cx="122.06" cy="447.15" r="2.25"/><circle cx="122.21" cy="448.68" r="2.25"/><circle cx="122.58" cy="452.24" r="2.25"/><circle cx="122.74" cy="453.80" r="2.25"/><circle cx="123.10" cy="457.45" r="2.25"/><circle cx="123.26" cy="458.90" r="2.25"/><circle cx="123.63" cy="462.29" r="2.25"/><circle cx="123.79" cy="463.51" r="2.25"/><circle cx="124.15" cy="466.35" r="2.25"/><circle cx="124.31" cy="467.42" r="2.25"/><circle cx="124.68" cy="469.92" r="2.25"/><circle cx="124.83" cy="470.92" r="2.25"/><circle cx="125.20" cy="473.23" r="2.25"/><circle cx="125.36" cy="474.20" r="2.25"/><circle cx="125.72" cy="476.46" r="2.25"/><circle cx="125.88" cy="477.47" r="2.25"/><circle cx="126.25" cy="479.82" r="2.25"/><circle cx="126.41" cy="480.88" r="2.25"/><circle cx="126.77" cy="483.35" r="2.25"/><circle cx="126.93" cy="484.43" r="2.25"/><circle cx="127.30" cy="486.94" r="2.25"/><circle cx="127.45" cy="488.00" r="2.25"/><circle cx="127.82" cy="490.46" r="2.25"/><circle cx="127.98" cy="491.46" r="2.25"/><circle cx="128.34" cy="493.78" r="2.25"/><circle cx="128.50" cy="494.70" r="2.25"/><circle cx="128.87" cy="496.84" r="2.25"/><circle cx="129.39" cy="499.83" r="2.25"/><circle cx="129.92" cy="502.73" r="2.25"/><circle cx="130.44" cy="505.47" r="2.25"/><circle cx="130.96" cy="507.98" r="2.25"/><circle cx="131.49" cy="510.20" r="2.25"/><circle cx="132.01" cy="512.14" r="2.25"/><circle cx="132.54" cy="513.88" r="2.25"/><circle cx="133.06" cy="515.83" r="2.25"/><circle cx="133.58" cy="517.40" r="2.25"/><circle cx="134.11" cy="518.72" r="2.25"/><circle cx="134.63" cy="519.42" r="2.25"/><circle cx="135.16" cy="520.50" r="2.25"/><circle cx="135.68" cy="520.43" r="2.25"/><circle cx="136.20" cy="521.30" r="2.25"/><circle cx="136.73" cy="521.47" r="2.25"/><circle cx="137.25" cy="520.88" r="2.25"/><circle cx="137.78" cy="521.21" r="2.25"/><circle cx="138.30" cy="521.49" r="2.25"/><circle cx="138.82" cy="521.61" r="2.25"/><circle cx="139.35" cy="521.27" r="2.25"/><circle cx="139.87" cy="521.16" r="2.25"/><circle cx="140.40" cy="521.14" r="2.25"/><circle cx="140.92" cy="521.67" r="2.25"/><circle cx="141.44" cy="521.18" r="2.25"/></g>
<polyline fill="none" stroke="#1fae48" stroke-width="0.70"  points="172.61,336.15 172.99,346.07 172.49,361.34 173.99,371.60 175.02,378.14 176.05,385.99 174.31,392.17 176.05,400.47 176.08,406.86 176.71,413.95 178.52,419.40 178.82,427.65 177.70,434.16 179.77,440.04 179.19,444.44 179.98,451.67 181.02,455.89 181.31,462.01 181.83,467.77 182.36,473.41 182.88,478.81 183.40,483.72 183.93,488.23 184.45,492.29 184.98,496.03 185.50,499.52 186.02,502.73 186.55,505.68 187.07,508.34 187.60,510.72 188.12,512.91 188.64,514.95 189.17,516.58 189.69,517.88 190.22,518.88 190.74,519.65 191.26,520.05 191.79,520.34 192.31,520.49 192.84,520.48 193.36,520.41 193.88,520.28 194.41,520.35 194.93,520.89 195.46,520.53 195.98,521.01 196.50,520.54 197.03,520.57 197.55,520.76 198.08,520.55 198.60,520.69 199.12,521.10 199.65,521.06 200.17,521.01 200.70,520.89"/>
<g fill="#fff" stroke="#1fae48" stroke-width="0.70"><circle cx="172.61" cy="336.15" r="2.25"/><circle cx="172.72" cy="339.13" r="2.25"/><circle cx="172.99" cy="346.07" r="2.25"/><circle cx="172.84" cy="350.65" r="2.25"/><circle cx="172.49" cy="361.34" r="2.25"/><circle cx="172.94" cy="364.42" r="2.25"/><circle cx="173.99" cy="371.60" r="2.25"/><circle cx="174.30" cy="373.56" r="2.25"/><circle cx="175.02" cy="378.14" r="2.25"/><circle cx="175.33" cy="380.49" r="2.25"/><circle cx="176.05" cy="385.99" r="2.25"/><circle cx="175.53" cy="387.85" r="2.25"/><circle cx="174.31" cy="392.17" r="2.25"/><circle cx="174.83" cy="394.66" r="2.25"/><circle cx="176.05" cy="400.47" r="2.25"/><circle cx="176.06" cy="402.39" r="2.25"/><circle cx="176.08" cy="406.86" r="2.25"/><circle cx="176.27" cy="408.99" r="2.25"/><circle cx="176.71" cy="413.95" r="2.25"/><circle cx="177.25" cy="415.59" r="2.25"/><circle cx="178.52" cy="419.40" r="2.25"/><circle cx="178.61" cy="421.87" r="2.25"/><circle cx="178.82" cy="427.65" r="2.25"/><circle cx="178.48" cy="429.60" r="2.25"/><circle cx="177.70" cy="434.16" r="2.25"/><circle cx="178.32" cy="435.92" r="2.25"/><circle cx="179.77" cy="440.04" r="2.25"/><circle cx="179.59" cy="441.36" r="2.25"/><circle cx="179.19" cy="444.44" r="2.25"/><circle cx="179.43" cy="446.61" r="2.25"/><circle cx="179.98" cy="451.67" r="2.25"/><circle cx="180.29" cy="452.93" r="2.25"/><circle cx="181.02" cy="455.89" r="2.25"/><circle cx="181.10" cy="457.73" r="2.25"/><circle cx="181.31" cy="462.01" r="2.25"/><circle cx="181.47" cy="463.74" r="2.25"/><circle cx="181.83" cy="467.77" r="2.25"/><circle cx="181.99" cy="469.46" r="2.25"/><circle cx="182.36" cy="473.41" r="2.25"/><circle cx="182.51" cy="475.03" r="2.25"/><circle cx="182.88" cy="478.81" r="2.25"/><circle cx="183.04" cy="480.28" r="2.25"/><circle cx="183.40" cy="483.72" r="2.25"/><circle cx="183.56" cy="485.08" r="2.25"/><circle cx="183.93" cy="488.23" r="2.25"/><circle cx="184.09" cy="489.45" r="2.25"/><circle cx="184.45" cy="492.29" r="2.25"/><circle cx="184.61" cy="493.41" r="2.25"/><circle cx="184.98" cy="496.03" r="2.25"/><circle cx="185.13" cy="497.08" r="2.25"/><circle cx="185.50" cy="499.52" r="2.25"/><circle cx="185.66" cy="500.49" r="2.25"/><circle cx="186.02" cy="502.73" r="2.25"/><circle cx="186.55" cy="505.68" r="2.25"/><circle cx="187.07" cy="508.34" r="2.25"/><circle cx="187.60" cy="510.72" r="2.25"/><circle cx="188.12" cy="512.91" r="2.25"/><circle cx="188.64" cy="514.95" r="2.25"/><circle cx="189.17" cy="516.58" r="2.25"/><circle cx="189.69" cy="517.88" r="2.25"/><circle cx="190.22" cy="518.88" r="2.25"/><circle cx="190.74" cy="519.65" r="2.25"/><circle cx="191.26" cy="520.05" r="2.25"/><circle cx="191.79" cy="520.34" r="2.25"/><circle cx="192.31" cy="520.49" r="2.25"/><circle cx="192.84" cy="520.48" r="2.25"/><circle cx="193.36" cy="520.41" r="2.25"/><circle cx="193.88" cy="520.28" r="2.25"/><circle cx="194.41" cy="520.35" r="2.25"/><circle cx="194.93" cy="520.89" r="2.25"/><circle cx="195.46" cy="520.53" r="2.25"/><circle cx="195.98" cy="521.01" r="2.25"/><circle cx="196.50" cy="520.54" r="2.25"/><circle cx="197.03" cy="520.57" r="2.25"/><circle cx="197.55" cy="520.76" r="2.25"/><circle cx="198.08" cy="520.55" r="2.25"/><circle cx="198.60" cy="520.69" r="2.25"/><circle cx="199.12" cy="521.10" r="2.25"/><circle cx="199.65" cy="521.06" r="2.25"/><circle cx="200.17" cy="521.01" r="2.25"/><circle cx="200.70" cy="520.89" r="2.25"/></g>
<polyline fill="none" stroke="#1fae48" stroke-width="0.70"  points="233.17,335.74 232.75,343.34 231.98,359.11 233.54,369.40 234.57,376.55 233.55,385.49 234.28,391.89 235.36,398.85 236.91,407.75 236.19,413.82 236.82,419.93 237.59,425.39 237.51,431.94 239.97,438.73 238.71,445.53 241.25,450.31 239.55,455.49 241.01,462.01 241.53,467.77 242.06,473.41 242.58,478.81 243.10,483.72 243.63,488.23 244.15,492.29 244.68,496.03 245.20,499.52 245.72,502.73 246.25,505.68 246.77,508.34 247.30,510.72 247.82,512.91 248.34,514.95 248.87,516.58 249.39,517.88 249.92,518.88 250.44,519.65 250.96,520.05 251.49,520.34 252.01,520.49 252.54,520.25 253.06,520.46 253.58,520.31 254.11,520.45 254.63,520.49 255.16,520.73 255.68,520.97 256.20,520.89 256.73,520.68 257.25,520.69 257.78,520.78 258.30,520.69 258.82,520.67 259.35,520.48 259.87,520.64 260.40,521.12 260.92,520.54"/>
<g fill="#fff" stroke="#1fae48" stroke-width="0.70"><circle cx="233.17" cy="335.74" r="2.25"/><circle cx="233.05" cy="338.02" r="2.25"/><circle cx="232.75" cy="343.34" r="2.25"/><circle cx="232.52" cy="348.07" r="2.25"/><circle cx="231.98" cy="359.11" r="2.25"/><circle cx="232.45" cy="362.20" r="2.25"/><circle cx="233.54" cy="369.40" r="2.25"/><circle cx="233.85" cy="371.55" r="2.25"/><circle cx="234.57" cy="376.55" r="2.25"/><circle cx="234.26" cy="379.23" r="2.25"/><circle cx="233.55" cy="385.49" r="2.25"/><circle cx="233.77" cy="387.41" r="2.25"/><circle cx="234.28" cy="391.89" r="2.25"/><circle cx="234.60" cy="393.97" r="2.25"/><circle cx="235.36" cy="398.85" r="2.25"/><circle cx="235.83" cy="401.52" r="2.25"/><circle cx="236.91" cy="407.75" r="2.25"/><circle cx="236.70" cy="409.57" r="2.25"/><circle cx="236.19" cy="413.82" r="2.25"/><circle cx="236.38" cy="415.65" r="2.25"/><circle cx="236.82" cy="419.93" r="2.25"/><circle cx="237.05" cy="421.57" r="2.25"/><circle cx="237.59" cy="425.39" r="2.25"/><circle cx="237.57" cy="427.35" r="2.25"/><circle cx="237.51" cy="431.94" r="2.25"/><circle cx="238.25" cy="433.97" r="2.25"/><circle cx="239.97" cy="438.73" r="2.25"/><circle cx="239.59" cy="440.77" r="2.25"/><circle cx="238.71" cy="445.53" r="2.25"/><circle cx="239.47" cy="446.96" r="2.25"/><circle cx="241.25" cy="450.31" r="2.25"/><circle cx="240.74" cy="451.86" r="2.25"/><circle cx="239.55" cy="455.49" r="2.25"/><circle cx="239.99" cy="457.44" r="2.25"/><circle cx="241.01" cy="462.01" r="2.25"/><circle cx="241.17" cy="463.74" r="2.25"/><circle cx="241.53" cy="467.77" r="2.25"/><circle cx="241.69" cy="469.46" r="2.25"/><circle cx="242.06" cy="473.41" r="2.25"/><circle cx="242.21" cy="475.03" r="2.25"/><circle cx="242.58" cy="478.81" r="2.25"/><circle cx="242.74" cy="480.28" r="2.25"/><circle cx="243.10" cy="483.72" r="2.25"/><circle cx="243.26" cy="485.08" r="2.25"/><circle cx="243.63" cy="488.23" r="2.25"/><circle cx="243.79" cy="489.45" r="2.25"/><circle cx="244.15" cy="492.29" r="2.25"/><circle cx="244.31" cy="493.41" r="2.25"/><circle cx="244.68" cy="496.03" r="2.25"/><circle cx="244.83" cy="497.08" r="2.25"/><circle cx="245.20" cy="499.52" r="2.25"/><circle cx="245.36" cy="500.49" r="2.25"/><circle cx="245.72" cy="502.73" r="2.25"/><circle cx="246.25" cy="505.68" r="2.25"/><circle cx="246.77" cy="508.34" r="2.25"/><circle cx="247.30" cy="510.72" r="2.25"/><circle cx="247.82" cy="512.91" r="2.25"/><circle cx="248.34" cy="514.95" r="2.25"/><circle cx="248.87" cy="516.58" r="2.25"/><circle cx="249.39" cy="517.88" r="2.25"/><circle cx="249.92" cy="518.88" r="2.25"/><circle cx="250.44" cy="519.65" r="2.25"/><circle cx="250.96" cy="520.05" r="2.25"/><circle cx="251.49" cy="520.34" r="2.25"/><circle cx="252.01" cy="520.49" r="2.25"/><circle cx="252.54" cy="520.25" r="2.25"/><circle cx="253.06" cy="520.46" r="2.25"/><circle cx="253.58" cy="520.31" r="2.25"/><circle cx="254.11" cy="520.45" r="2.25"/><circle cx="254.63" cy="520.49" r="2.25"/><circle cx="255.16" cy="520.73" r="2.25"/><circle cx="255.68" cy="520.97" r="2.25"/><circle cx="256.20" cy="520.89" r="2.25"/><circle cx="256.73" cy="520.68" r="2.25"/><circle cx="257.25" cy="520.69" r="2.25"/><circle cx="257.78" cy="520.78" r="2.25"/><circle cx="258.30" cy="520.69" r="2.25"/><circle cx="258.82" cy="520.67" r="2.25"/><circle cx="259.35" cy="520.48" r="2.25"/><circle cx="259.87" cy="520.64" r="2.25"/><circle cx="260.40" cy="521.12" r="2.25"/><circle cx="260.92" cy="520.54" r="2.25"/></g>
<polyline fill="none" stroke="#1fae48" stroke-width="0.70"  points="292.31,336.97 293.77,343.97 292.75,359.66 293.61,370.25 295.58,379.35 295.89,384.64 294.23,393.65 297.00,400.33 296.72,406.35 296.73,415.27 298.39,421.32 299.29,426.13 297.57,432.23 299.17,439.46 300.78,445.25 300.54,451.10 300.57,456.35 301.21,462.01 301.73,467.77 302.26,473.41 302.78,478.81 303.30,483.72 303.83,488.23 304.35,492.29 304.88,496.03 305.40,499.52 305.92,502.73 306.45,505.68 306.97,508.34 307.50,510.72 308.02,512.91 308.54,514.95 309.07,516.58 309.59,517.88 310.12,518.88 310.64,519.65 311.16,520.05 311.69,520.34 312.21,520.49 312.74,520.21 313.26,520.76 313.78,520.41 314.31,520.92 314.83,520.76 315.36,520.54 315.88,520.44 316.40,520.55 316.93,520.83 317.45,520.89 317.98,520.49 318.50,520.47 319.02,520.80 319.55,520.85 320.07,520.72 320.60,520.60 321.12,520.87"/>
<g fill="#fff" stroke="#1fae48" stroke-width="0.70"><circle cx="292.31" cy="336.97" r="2.25"/><circle cx="292.75" cy="339.07" r="2.25"/><circle cx="293.77" cy="343.97" r="2.25"/><circle cx="293.46" cy="348.68" r="2.25"/><circle cx="292.75" cy="359.66" r="2.25"/><circle cx="293.01" cy="362.83" r="2.25"/><circle cx="293.61" cy="370.25" r="2.25"/><circle cx="294.20" cy="372.98" r="2.25"/><circle cx="295.58" cy="379.35" r="2.25"/><circle cx="295.67" cy="380.94" r="2.25"/><circle cx="295.89" cy="384.64" r="2.25"/><circle cx="295.39" cy="387.34" r="2.25"/><circle cx="294.23" cy="393.65" r="2.25"/><circle cx="295.06" cy="395.66" r="2.25"/><circle cx="297.00" cy="400.33" r="2.25"/><circle cx="296.91" cy="402.14" r="2.25"/><circle cx="296.72" cy="406.35" r="2.25"/><circle cx="296.72" cy="409.03" r="2.25"/><circle cx="296.73" cy="415.27" r="2.25"/><circle cx="297.23" cy="417.09" r="2.25"/><circle cx="298.39" cy="421.32" r="2.25"/><circle cx="298.66" cy="422.77" r="2.25"/><circle cx="299.29" cy="426.13" r="2.25"/><circle cx="298.78" cy="427.96" r="2.25"/><circle cx="297.57" cy="432.23" r="2.25"/><circle cx="298.05" cy="434.40" r="2.25"/><circle cx="299.17" cy="439.46" r="2.25"/><circle cx="299.65" cy="441.20" r="2.25"/><circle cx="300.78" cy="445.25" r="2.25"/><circle cx="300.71" cy="447.01" r="2.25"/><circle cx="300.54" cy="451.10" r="2.25"/><circle cx="300.55" cy="452.67" r="2.25"/><circle cx="300.57" cy="456.35" r="2.25"/><circle cx="300.76" cy="458.05" r="2.25"/><circle cx="301.21" cy="462.01" r="2.25"/><circle cx="301.37" cy="463.74" r="2.25"/><circle cx="301.73" cy="467.77" r="2.25"/><circle cx="301.89" cy="469.46" r="2.25"/><circle cx="302.26" cy="473.41" r="2.25"/><circle cx="302.41" cy="475.03" r="2.25"/><circle cx="302.78" cy="478.81" r="2.25"/><circle cx="302.94" cy="480.28" r="2.25"/><circle cx="303.30" cy="483.72" r="2.25"/><circle cx="303.46" cy="485.08" r="2.25"/><circle cx="303.83" cy="488.23" r="2.25"/><circle cx="303.99" cy="489.45" r="2.25"/><circle cx="304.35" cy="492.29" r="2.25"/><circle cx="304.51" cy="493.41" r="2.25"/><circle cx="304.88" cy="496.03" r="2.25"/><circle cx="305.03" cy="497.08" r="2.25"/><circle cx="305.40" cy="499.52" r="2.25"/><circle cx="305.56" cy="500.49" r="2.25"/><circle cx="305.92" cy="502.73" r="2.25"/><circle cx="306.45" cy="505.68" r="2.25"/><circle cx="306.97" cy="508.34" r="2.25"/><circle cx="307.50" cy="510.72" r="2.25"/><circle cx="308.02" cy="512.91" r="2.25"/><circle cx="308.54" cy="514.95" r="2.25"/><circle cx="309.07" cy="516.58" r="2.25"/><circle cx="309.59" cy="517.88" r="2.25"/><circle cx="310.12" cy="518.88" r="2.25"/><circle cx="310.64" cy="519.65" r="2.25"/><circle cx="311.16" cy="520.05" r="2.25"/><circle cx="311.69" cy="520.34" r="2.25"/><circle cx="312.21" cy="520.49" r="2.25"/><circle cx="312.74" cy="520.21" r="2.25"/><circle cx="313.26" cy="520.76" r="2.25"/><circle cx="313.78" cy="520.41" r="2.25"/><circle cx="314.31" cy="520.92" r="2.25"/><circle cx="314.83" cy="520.76" r="2.25"/><circle cx="315.36" cy="520.54" r="2.25"/><circle cx="315.88" cy="520.44" r="2.25"/><circle cx="316.40" cy="520.55" r="2.25"/><circle cx="316.93" cy="520.83" r="2.25"/><circle cx="317.45" cy="520.89" r="2.25"/><circle cx="317.98" cy="520.49" r="2.25"/><circle cx="318.50" cy="520.47" r="2.25"/><circle cx="319.02" cy="520.80" r="2.25"/><circle cx="319.55" cy="520.85" r="2.25"/><circle cx="320.07" cy="520.72" r="2.25"/><circle cx="320.60" cy="520.60" r="2.25"/><circle cx="321.12" cy="520.87" r="2.25"/></g>
<polyline fill="none" stroke="#1fae48" stroke-width="0.70"  points="350.83,333.67 352.52,343.41 353.52,359.00 353.61,367.73 353.54,377.77 355.25,383.64 354.00,391.62 356.22,398.85 355.66,406.76 357.92,412.57 356.13,419.22 357.66,426.48 357.60,433.23 359.53,438.67 358.67,445.64 359.47,451.19 359.78,455.56 361.01,462.01 361.53,467.77 362.06,473.41 362.58,478.81 363.10,483.72 363.63,488.23 364.15,492.29 364.68,496.03 365.20,499.52 365.72,502.73 366.25,505.68 366.77,508.34 367.30,510.72 367.82,512.91 368.34,514.95 368.87,516.58 369.39,517.88 369.92,518.88 370.44,519.65 370.96,520.05 371.49,520.34 372.01,520.49 372.54,520.71 373.06,520.42 373.58,520.92 374.11,520.63 374.63,520.44 375.16,520.49 375.68,520.64 376.20,520.84 376.73,521.05 377.25,520.50 377.78,520.69 378.30,520.57 378.82,521.11 379.35,520.54 379.87,520.48 380.40,520.49"/>
<g fill="#fff" stroke="#1fae48" stroke-width="0.70"><circle cx="350.83" cy="333.67" r="2.25"/><circle cx="351.34" cy="336.60" r="2.25"/><circle cx="352.52" cy="343.41" r="2.25"/><circle cx="352.82" cy="348.09" r="2.25"/><circle cx="353.52" cy="359.00" r="2.25"/><circle cx="353.55" cy="361.62" r="2.25"/><circle cx="353.61" cy="367.73" r="2.25"/><circle cx="353.59" cy="370.74" r="2.25"/><circle cx="353.54" cy="377.77" r="2.25"/><circle cx="354.05" cy="379.53" r="2.25"/><circle cx="355.25" cy="383.64" r="2.25"/><circle cx="354.88" cy="386.04" r="2.25"/><circle cx="354.00" cy="391.62" r="2.25"/><circle cx="354.67" cy="393.79" r="2.25"/><circle cx="356.22" cy="398.85" r="2.25"/><circle cx="356.05" cy="401.22" r="2.25"/><circle cx="355.66" cy="406.76" r="2.25"/><circle cx="356.34" cy="408.50" r="2.25"/><circle cx="357.92" cy="412.57" r="2.25"/><circle cx="357.38" cy="414.56" r="2.25"/><circle cx="356.13" cy="419.22" r="2.25"/><circle cx="356.59" cy="421.39" r="2.25"/><circle cx="357.66" cy="426.48" r="2.25"/><circle cx="357.64" cy="428.50" r="2.25"/><circle cx="357.60" cy="433.23" r="2.25"/><circle cx="358.18" cy="434.86" r="2.25"/><circle cx="359.53" cy="438.67" r="2.25"/><circle cx="359.27" cy="440.76" r="2.25"/><circle cx="358.67" cy="445.64" r="2.25"/><circle cx="358.91" cy="447.30" r="2.25"/><circle cx="359.47" cy="451.19" r="2.25"/><circle cx="359.56" cy="452.50" r="2.25"/><circle cx="359.78" cy="455.56" r="2.25"/><circle cx="360.15" cy="457.49" r="2.25"/><circle cx="361.01" cy="462.01" r="2.25"/><circle cx="361.17" cy="463.74" r="2.25"/><circle cx="361.53" cy="467.77" r="2.25"/><circle cx="361.69" cy="469.46" r="2.25"/><circle cx="362.06" cy="473.41" r="2.25"/><circle cx="362.21" cy="475.03" r="2.25"/><circle cx="362.58" cy="478.81" r="2.25"/><circle cx="362.74" cy="480.28" r="2.25"/><circle cx="363.10" cy="483.72" r="2.25"/><circle cx="363.26" cy="485.08" r="2.25"/><circle cx="363.63" cy="488.23" r="2.25"/><circle cx="363.79" cy="489.45" r="2.25"/><circle cx="364.15" cy="492.29" r="2.25"/><circle cx="364.31" cy="493.41" r="2.25"/><circle cx="364.68" cy="496.03" r="2.25"/><circle cx="364.83" cy="497.08" r="2.25"/><circle cx="365.20" cy="499.52" r="2.25"/><circle cx="365.36" cy="500.49" r="2.25"/><circle cx="365.72" cy="502.73" r="2.25"/><circle cx="366.25" cy="505.68" r="2.25"/><circle cx="366.77" cy="508.34" r="2.25"/><circle cx="367.30" cy="510.72" r="2.25"/><circle cx="367.82" cy="512.91" r="2.25"/><circle cx="368.34" cy="514.95" r="2.25"/><circle cx="368.87" cy="516.58" r="2.25"/><circle cx="369.39" cy="517.88" r="2.25"/><circle cx="369.92" cy="518.88" r="2.25"/><circle cx="370.44" cy="519.65" r="2.25"/><circle cx="370.96" cy="520.05" r="2.25"/><circle cx="371.49" cy="520.34" r="2.25"/><circle cx="372.01" cy="520.49" r="2.25"/><circle cx="372.54" cy="520.71" r="2.25"/><circle cx="373.06" cy="520.42" r="2.25"/><circle cx="373.58" cy="520.92" r="2.25"/><circle cx="374.11" cy="520.63" r="2.25"/><circle cx="374.63" cy="520.44" r="2.25"/><circle cx="375.16" cy="520.49" r="2.25"/><circle cx="375.68" cy="520.64" r="2.25"/><circle cx="376.20" cy="520.84" r="2.25"/><circle cx="376.73" cy="521.05" r="2.25"/><circle cx="377.25" cy="520.50" r="2.25"/><circle cx="377.78" cy="520.69" r="2.25"/><circle cx="378.30" cy="520.57" r="2.25"/><circle cx="378.82" cy="521.11" r="2.25"/><circle cx="379.35" cy="520.54" r="2.25"/><circle cx="379.87" cy="520.48" r="2.25"/><circle cx="380.40" cy="520.49" r="2.25"/></g>
<polyline fill="none" stroke="#1fae48" stroke-width="0.70"  points="411.62,335.11 413.42,342.87 414.24,359.12 413.03,367.61 415.13,377.26 413.30,384.50 414.73,391.32 415.13,398.25 414.80,405.83 416.23,414.31 416.16,420.72 416.90,425.69 419.02,433.29 418.54,437.57 419.17,444.21 420.85,449.68 419.93,457.18 420.81,462.01 421.33,467.77 421.86,473.41 422.38,478.81 422.90,483.72 423.43,488.23 423.95,492.29 424.48,496.03 425.00,499.52 425.52,502.73 426.05,505.68 426.57,508.34 427.10,510.72 427.62,512.91 428.14,514.95 428.67,516.58 429.19,517.88 429.72,518.88 430.24,519.65 430.76,520.05 431.29,520.34 431.81,520.49 432.34,520.20 432.86,520.50 433.38,520.82 433.91,520.82 434.43,520.33 434.96,520.35 435.48,520.40 436.00,521.01 436.53,520.57 437.05,520.92 437.58,521.04 438.10,520.66 438.62,520.62 439.15,521.11 439.67,520.88 440.20,520.63 440.72,520.95 441.24,520.67"/>
<g fill="#fff" stroke="#1fae48" stroke-width="0.70"><circle cx="411.62" cy="335.11" r="2.25"/><circle cx="412.16" cy="337.43" r="2.25"/><circle cx="413.42" cy="342.87" r="2.25"/><circle cx="413.67" cy="347.75" r="2.25"/><circle cx="414.24" cy="359.12" r="2.25"/><circle cx="413.88" cy="361.67" r="2.25"/><circle cx="413.03" cy="367.61" r="2.25"/><circle cx="413.66" cy="370.51" r="2.25"/><circle cx="415.13" cy="377.26" r="2.25"/><circle cx="414.58" cy="379.43" r="2.25"/><circle cx="413.30" cy="384.50" r="2.25"/><circle cx="413.73" cy="386.55" r="2.25"/><circle cx="414.73" cy="391.32" r="2.25"/><circle cx="414.85" cy="393.40" r="2.25"/><circle cx="415.13" cy="398.25" r="2.25"/><circle cx="415.03" cy="400.52" r="2.25"/><circle cx="414.80" cy="405.83" r="2.25"/><circle cx="415.23" cy="408.37" r="2.25"/><circle cx="416.23" cy="414.31" r="2.25"/><circle cx="416.21" cy="416.24" r="2.25"/><circle cx="416.16" cy="420.72" r="2.25"/><circle cx="416.38" cy="422.21" r="2.25"/><circle cx="416.90" cy="425.69" r="2.25"/><circle cx="417.54" cy="427.97" r="2.25"/><circle cx="419.02" cy="433.29" r="2.25"/><circle cx="418.88" cy="434.58" r="2.25"/><circle cx="418.54" cy="437.57" r="2.25"/><circle cx="418.73" cy="439.56" r="2.25"/><circle cx="419.17" cy="444.21" r="2.25"/><circle cx="419.67" cy="445.85" r="2.25"/><circle cx="420.85" cy="449.68" r="2.25"/><circle cx="420.57" cy="451.93" r="2.25"/><circle cx="419.93" cy="457.18" r="2.25"/><circle cx="420.19" cy="458.63" r="2.25"/><circle cx="420.81" cy="462.01" r="2.25"/><circle cx="420.97" cy="463.74" r="2.25"/><circle cx="421.33" cy="467.77" r="2.25"/><circle cx="421.49" cy="469.46" r="2.25"/><circle cx="421.86" cy="473.41" r="2.25"/><circle cx="422.01" cy="475.03" r="2.25"/><circle cx="422.38" cy="478.81" r="2.25"/><circle cx="422.54" cy="480.28" r="2.25"/><circle cx="422.90" cy="483.72" r="2.25"/><circle cx="423.06" cy="485.08" r="2.25"/><circle cx="423.43" cy="488.23" r="2.25"/><circle cx="423.59" cy="489.45" r="2.25"/><circle cx="423.95" cy="492.29" r="2.25"/><circle cx="424.11" cy="493.41" r="2.25"/><circle cx="424.48" cy="496.03" r="2.25"/><circle cx="424.63" cy="497.08" r="2.25"/><circle cx="425.00" cy="499.52" r="2.25"/><circle cx="425.16" cy="500.49" r="2.25"/><circle cx="425.52" cy="502.73" r="2.25"/><circle cx="426.05" cy="505.68" r="2.25"/><circle cx="426.57" cy="508.34" r="2.25"/><circle cx="427.10" cy="510.72" r="2.25"/><circle cx="427.62" cy="512.91" r="2.25"/><circle cx="428.14" cy="514.95" r="2.25"/><circle cx="428.67" cy="516.58" r="2.25"/><circle cx="429.19" cy="517.88" r="2.25"/><circle cx="429.72" cy="518.88" r="2.25"/><circle cx="430.24" cy="519.65" r="2.25"/><circle cx="430.76" cy="520.05" r="2.25"/><circle cx="431.29" cy="520.34" r="2.25"/><circle cx="431.81" cy="520.49" r="2.25"/><circle cx="432.34" cy="520.20" r="2.25"/><circle cx="432.86" cy="520.50" r="2.25"/><circle cx="433.38" cy="520.82" r="2.25"/><circle cx="433.91" cy="520.82" r="2.25"/><circle cx="434.43" cy="520.33" r="2.25"/><circle cx="434.96" cy="520.35" r="2.25"/><circle cx="435.48" cy="520.40" r="2.25"/><circle cx="436.00" cy="521.01" r="2.25"/><circle cx="436.53" cy="520.57" r="2.25"/><circle cx="437.05" cy="520.92" r="2.25"/><circle cx="437.58" cy="521.04" r="2.25"/><circle cx="438.10" cy="520.66" r="2.25"/><circle cx="438.62" cy="520.62" r="2.25"/><circle cx="439.15" cy="521.11" r="2.25"/><circle cx="439.67" cy="520.88" r="2.25"/><circle cx="440.20" cy="520.63" r="2.25"/><circle cx="440.72" cy="520.95" r="2.25"/><circle cx="441.24" cy="520.67" r="2.25"/></g>
<polyline fill="none" stroke="#1fae48" stroke-width="0.70"  points="471.32,333.50 473.09,343.81 473.30,359.61 472.24,368.16 473.93,378.16 475.70,384.19 474.40,391.78 475.55,400.36 475.27,407.34 477.24,414.22 477.85,420.05 477.22,425.75 477.83,433.31 477.62,438.01 479.89,443.95 478.63,449.31 480.42,455.81 480.81,462.01 481.33,467.77 481.86,473.41 482.38,478.81 482.90,483.72 483.43,488.23 483.95,492.29 484.48,496.03 485.00,499.52 485.52,502.73 486.05,505.68 486.57,508.34 487.10,510.72 487.62,512.91 488.14,514.95 488.67,516.58 489.19,517.88 489.72,518.88 490.24,519.65 490.76,520.05 491.29,520.34 491.81,520.49 492.34,520.87 492.86,520.84 493.38,520.94 493.91,520.46 494.43,520.36 494.96,520.40 495.48,520.70 496.00,520.87 496.53,520.70 497.05,520.57 497.58,520.71 498.10,520.86 498.62,520.90 499.15,520.96 499.67,521.04 500.20,520.91"/>
<g fill="#fff" stroke="#1fae48" stroke-width="0.70"><circle cx="471.32" cy="333.50" r="2.25"/><circle cx="471.85" cy="336.59" r="2.25"/><circle cx="473.09" cy="343.81" r="2.25"/><circle cx="473.15" cy="348.55" r="2.25"/><circle cx="473.30" cy="359.61" r="2.25"/><circle cx="472.98" cy="362.18" r="2.25"/><circle cx="472.24" cy="368.16" r="2.25"/><circle cx="472.74" cy="371.16" r="2.25"/><circle cx="473.93" cy="378.16" r="2.25"/><circle cx="474.46" cy="379.97" r="2.25"/><circle cx="475.70" cy="384.19" r="2.25"/><circle cx="475.31" cy="386.47" r="2.25"/><circle cx="474.40" cy="391.78" r="2.25"/><circle cx="474.74" cy="394.36" r="2.25"/><circle cx="475.55" cy="400.36" r="2.25"/><circle cx="475.47" cy="402.45" r="2.25"/><circle cx="475.27" cy="407.34" r="2.25"/><circle cx="475.86" cy="409.40" r="2.25"/><circle cx="477.24" cy="414.22" r="2.25"/><circle cx="477.42" cy="415.97" r="2.25"/><circle cx="477.85" cy="420.05" r="2.25"/><circle cx="477.66" cy="421.76" r="2.25"/><circle cx="477.22" cy="425.75" r="2.25"/><circle cx="477.40" cy="428.02" r="2.25"/><circle cx="477.83" cy="433.31" r="2.25"/><circle cx="477.77" cy="434.72" r="2.25"/><circle cx="477.62" cy="438.01" r="2.25"/><circle cx="478.30" cy="439.79" r="2.25"/><circle cx="479.89" cy="443.95" r="2.25"/><circle cx="479.51" cy="445.56" r="2.25"/><circle cx="478.63" cy="449.31" r="2.25"/><circle cx="479.17" cy="451.26" r="2.25"/><circle cx="480.42" cy="455.81" r="2.25"/><circle cx="480.54" cy="457.67" r="2.25"/><circle cx="480.81" cy="462.01" r="2.25"/><circle cx="480.97" cy="463.74" r="2.25"/><circle cx="481.33" cy="467.77" r="2.25"/><circle cx="481.49" cy="469.46" r="2.25"/><circle cx="481.86" cy="473.41" r="2.25"/><circle cx="482.01" cy="475.03" r="2.25"/><circle cx="482.38" cy="478.81" r="2.25"/><circle cx="482.54" cy="480.28" r="2.25"/><circle cx="482.90" cy="483.72" r="2.25"/><circle cx="483.06" cy="485.08" r="2.25"/><circle cx="483.43" cy="488.23" r="2.25"/><circle cx="483.59" cy="489.45" r="2.25"/><circle cx="483.95" cy="492.29" r="2.25"/><circle cx="484.11" cy="493.41" r="2.25"/><circle cx="484.48" cy="496.03" r="2.25"/><circle cx="484.63" cy="497.08" r="2.25"/><circle cx="485.00" cy="499.52" r="2.25"/><circle cx="485.16" cy="500.49" r="2.25"/><circle cx="485.52" cy="502.73" r="2.25"/><circle cx="486.05" cy="505.68" r="2.25"/><circle cx="486.57" cy="508.34" r="2.25"/><circle cx="487.10" cy="510.72" r="2.25"/><circle cx="487.62" cy="512.91" r="2.25"/><circle cx="488.14" cy="514.95" r="2.25"/><circle cx="488.67" cy="516.58" r="2.25"/><circle cx="489.19" cy="517.88" r="2.25"/><circle cx="489.72" cy="518.88" r="2.25"/><circle cx="490.24" cy="519.65" r="2.25"/><circle cx="490.76" cy="520.05" r="2.25"/><circle cx="491.29" cy="520.34" r="2.25"/><circle cx="491.81" cy="520.49" r="2.25"/><circle cx="492.34" cy="520.87" r="2.25"/><circle cx="492.86" cy="520.84" r="2.25"/><circle cx="493.38" cy="520.94" r="2.25"/><circle cx="493.91" cy="520.46" r="2.25"/><circle cx="494.43" cy="520.36" r="2.25"/><circle cx="494.96" cy="520.40" r="2.25"/><circle cx="495.48" cy="520.70" r="2.25"/><circle cx="496.00" cy="520.87" r="2.25"/><circle cx="496.53" cy="520.70" r="2.25"/><circle cx="497.05" cy="520.57" r="2.25"/><circle cx="497.58" cy="520.71" r="2.25"/><circle cx="498.10" cy="520.86" r="2.25"/><circle cx="498.62" cy="520.90" r="2.25"/><circle cx="499.15" cy="520.96" r="2.25"/><circle cx="499.67" cy="521.04" r="2.25"/><circle cx="500.20" cy="520.91" r="2.25"/></g>
<polyline fill="none" stroke="#1fae48" stroke-width="0.70"  points="531.22,337.29 532.19,344.65 532.92,360.68 532.99,369.63 533.63,377.55 535.82,385.85 534.89,392.79 537.15,400.32 535.69,408.20 537.31,415.35 536.41,420.35 538.79,427.51 539.57,431.92 538.48,438.09 538.73,445.84 540.28,451.49 540.25,457.10 541.11,462.01 541.63,467.77 542.16,473.41 542.68,478.81 543.20,483.72 543.73,488.23 544.25,492.29 544.78,496.03 545.30,499.52 545.82,502.73 546.35,505.68 546.87,508.34 547.40,510.72 547.92,512.91 548.44,514.95 548.97,516.58 549.49,517.88 550.02,518.88 550.54,519.65 551.06,520.05 551.59,520.34 552.11,520.49 552.64,520.50 553.16,520.40 553.68,520.79 554.21,520.94 554.73,520.38 555.26,520.75 555.78,520.79 556.30,520.52 556.83,520.64 557.35,520.50 557.88,520.56 558.40,520.60 558.92,520.85 559.45,520.89 559.97,520.59 560.50,520.46"/>
<g fill="#fff" stroke="#1fae48" stroke-width="0.70"><circle cx="531.22" cy="337.29" r="2.25"/><circle cx="531.51" cy="339.50" r="2.25"/><circle cx="532.19" cy="344.65" r="2.25"/><circle cx="532.41" cy="349.46" r="2.25"/><circle cx="532.92" cy="360.68" r="2.25"/><circle cx="532.94" cy="363.36" r="2.25"/><circle cx="532.99" cy="369.63" r="2.25"/><circle cx="533.18" cy="372.01" r="2.25"/><circle cx="533.63" cy="377.55" r="2.25"/><circle cx="534.29" cy="380.04" r="2.25"/><circle cx="535.82" cy="385.85" r="2.25"/><circle cx="535.54" cy="387.93" r="2.25"/><circle cx="534.89" cy="392.79" r="2.25"/><circle cx="535.57" cy="395.05" r="2.25"/><circle cx="537.15" cy="400.32" r="2.25"/><circle cx="536.71" cy="402.68" r="2.25"/><circle cx="535.69" cy="408.20" r="2.25"/><circle cx="536.18" cy="410.35" r="2.25"/><circle cx="537.31" cy="415.35" r="2.25"/><circle cx="537.04" cy="416.85" r="2.25"/><circle cx="536.41" cy="420.35" r="2.25"/><circle cx="537.12" cy="422.49" r="2.25"/><circle cx="538.79" cy="427.51" r="2.25"/><circle cx="539.03" cy="428.83" r="2.25"/><circle cx="539.57" cy="431.92" r="2.25"/><circle cx="539.24" cy="433.77" r="2.25"/><circle cx="538.48" cy="438.09" r="2.25"/><circle cx="538.55" cy="440.41" r="2.25"/><circle cx="538.73" cy="445.84" r="2.25"/><circle cx="539.19" cy="447.54" r="2.25"/><circle cx="540.28" cy="451.49" r="2.25"/><circle cx="540.27" cy="453.18" r="2.25"/><circle cx="540.25" cy="457.10" r="2.25"/><circle cx="540.51" cy="458.58" r="2.25"/><circle cx="541.11" cy="462.01" r="2.25"/><circle cx="541.27" cy="463.74" r="2.25"/><circle cx="541.63" cy="467.77" r="2.25"/><circle cx="541.79" cy="469.46" r="2.25"/><circle cx="542.16" cy="473.41" r="2.25"/><circle cx="542.31" cy="475.03" r="2.25"/><circle cx="542.68" cy="478.81" r="2.25"/><circle cx="542.84" cy="480.28" r="2.25"/><circle cx="543.20" cy="483.72" r="2.25"/><circle cx="543.36" cy="485.08" r="2.25"/><circle cx="543.73" cy="488.23" r="2.25"/><circle cx="543.89" cy="489.45" r="2.25"/><circle cx="544.25" cy="492.29" r="2.25"/><circle cx="544.41" cy="493.41" r="2.25"/><circle cx="544.78" cy="496.03" r="2.25"/><circle cx="544.93" cy="497.08" r="2.25"/><circle cx="545.30" cy="499.52" r="2.25"/><circle cx="545.46" cy="500.49" r="2.25"/><circle cx="545.82" cy="502.73" r="2.25"/><circle cx="546.35" cy="505.68" r="2.25"/><circle cx="546.87" cy="508.34" r="2.25"/><circle cx="547.40" cy="510.72" r="2.25"/><circle cx="547.92" cy="512.91" r="2.25"/><circle cx="548.44" cy="514.95" r="2.25"/><circle cx="548.97" cy="516.58" r="2.25"/><circle cx="549.49" cy="517.88" r="2.25"/><circle cx="550.02" cy="518.88" r="2.25"/><circle cx="550.54" cy="519.65" r="2.25"/><circle cx="551.06" cy="520.05" r="2.25"/><circle cx="551.59" cy="520.34" r="2.25"/><circle cx="552.11" cy="520.49" r="2.25"/><circle cx="552.64" cy="520.50" r="2.25"/><circle cx="553.16" cy="520.40" r="2.25"/><circle cx="553.68" cy="520.79" r="2.25"/><circle cx="554.21" cy="520.94" r="2.25"/><circle cx="554.73" cy="520.38" r="2.25"/><circle cx="555.26" cy="520.75" r="2.25"/><circle cx="555.78" cy="520.79" r="2.25"/><circle cx="556.30" cy="520.52" r="2.25"/><circle cx="556.83" cy="520.64" r="2.25"/><circle cx="557.35" cy="520.50" r="2.25"/><circle cx="557.88" cy="520.56" r="2.25"/><circle cx="558.40" cy="520.60" r="2.25"/><circle cx="558.92" cy="520.85" r="2.25"/><circle cx="559.45" cy="520.89" r="2.25"/><circle cx="559.97" cy="520.59" r="2.25"/><circle cx="560.50" cy="520.46" r="2.25"/></g>
<polyline fill="none" stroke="#1fae48" stroke-width="0.70"  points="591.75,338.51 591.91,345.54 592.48,362.21 593.90,370.48 593.26,379.32 594.95,387.08 594.28,393.21 596.38,400.96 595.83,407.77 598.09,414.39 597.61,420.62 597.75,428.01 599.78,433.04 598.22,439.79 598.77,443.65 601.10,450.30 601.42,456.00 601.11,462.01 601.63,467.77 602.16,473.41 602.68,478.81 603.20,483.72 603.73,488.23 604.25,492.29 604.78,496.03 605.30,499.52 605.82,502.73 606.35,505.68 606.87,508.34 607.40,510.72 607.92,512.91 608.44,514.95 608.97,516.58 609.49,517.88 610.02,518.88 610.54,519.65 611.06,520.05 611.59,520.34 612.11,520.49 612.64,520.80 613.16,520.54 613.68,520.36 614.21,520.29 614.73,520.69 615.26,520.78 615.78,520.99 616.30,520.43 616.83,520.82 617.35,520.66 617.88,520.77 618.40,520.53 618.92,520.63 619.45,520.80 619.97,521.09 620.50,520.52"/>
<g fill="#fff" stroke="#1fae48" stroke-width="0.70"><circle cx="591.75" cy="338.51" r="2.25"/><circle cx="591.80" cy="340.62" r="2.25"/><circle cx="591.91" cy="345.54" r="2.25"/><circle cx="592.08" cy="350.54" r="2.25"/><circle cx="592.48" cy="362.21" r="2.25"/><circle cx="592.90" cy="364.69" r="2.25"/><circle cx="593.90" cy="370.48" r="2.25"/><circle cx="593.71" cy="373.13" r="2.25"/><circle cx="593.26" cy="379.32" r="2.25"/><circle cx="593.77" cy="381.65" r="2.25"/><circle cx="594.95" cy="387.08" r="2.25"/><circle cx="594.75" cy="388.92" r="2.25"/><circle cx="594.28" cy="393.21" r="2.25"/><circle cx="594.91" cy="395.53" r="2.25"/><circle cx="596.38" cy="400.96" r="2.25"/><circle cx="596.21" cy="403.00" r="2.25"/><circle cx="595.83" cy="407.77" r="2.25"/><circle cx="596.51" cy="409.75" r="2.25"/><circle cx="598.09" cy="414.39" r="2.25"/><circle cx="597.95" cy="416.26" r="2.25"/><circle cx="597.61" cy="420.62" r="2.25"/><circle cx="597.65" cy="422.84" r="2.25"/><circle cx="597.75" cy="428.01" r="2.25"/><circle cx="598.36" cy="429.52" r="2.25"/><circle cx="599.78" cy="433.04" r="2.25"/><circle cx="599.31" cy="435.06" r="2.25"/><circle cx="598.22" cy="439.79" r="2.25"/><circle cx="598.39" cy="440.95" r="2.25"/><circle cx="598.77" cy="443.65" r="2.25"/><circle cx="599.47" cy="445.65" r="2.25"/><circle cx="601.10" cy="450.30" r="2.25"/><circle cx="601.20" cy="452.01" r="2.25"/><circle cx="601.42" cy="456.00" r="2.25"/><circle cx="601.32" cy="457.80" r="2.25"/><circle cx="601.11" cy="462.01" r="2.25"/><circle cx="601.27" cy="463.74" r="2.25"/><circle cx="601.63" cy="467.77" r="2.25"/><circle cx="601.79" cy="469.46" r="2.25"/><circle cx="602.16" cy="473.41" r="2.25"/><circle cx="602.31" cy="475.03" r="2.25"/><circle cx="602.68" cy="478.81" r="2.25"/><circle cx="602.84" cy="480.28" r="2.25"/><circle cx="603.20" cy="483.72" r="2.25"/><circle cx="603.36" cy="485.08" r="2.25"/><circle cx="603.73" cy="488.23" r="2.25"/><circle cx="603.89" cy="489.45" r="2.25"/><circle cx="604.25" cy="492.29" r="2.25"/><circle cx="604.41" cy="493.41" r="2.25"/><circle cx="604.78" cy="496.03" r="2.25"/><circle cx="604.93" cy="497.08" r="2.25"/><circle cx="605.30" cy="499.52" r="2.25"/><circle cx="605.46" cy="500.49" r="2.25"/><circle cx="605.82" cy="502.73" r="2.25"/><circle cx="606.35" cy="505.68" r="2.25"/><circle cx="606.87" cy="508.34" r="2.25"/><circle cx="607.40" cy="510.72" r="2.25"/><circle cx="607.92" cy="512.91" r="2.25"/><circle cx="608.44" cy="514.95" r="2.25"/><circle cx="608.97" cy="516.58" r="2.25"/><circle cx="609.49" cy="517.88" r="2.25"/><circle cx="610.02" cy="518.88" r="2.25"/><circle cx="610.54" cy="519.65" r="2.25"/><circle cx="611.06" cy="520.05" r="2.25"/><circle cx="611.59" cy="520.34" r="2.25"/><circle cx="612.11" cy="520.49" r="2.25"/><circle cx="612.64" cy="520.80" r="2.25"/><circle cx="613.16" cy="520.54" r="2.25"/><circle cx="613.68" cy="520.36" r="2.25"/><circle cx="614.21" cy="520.29" r="2.25"/><circle cx="614.73" cy="520.69" r="2.25"/><circle cx="615.26" cy="520.78" r="2.25"/><circle cx="615.78" cy="520.99" r="2.25"/><circle cx="616.30" cy="520.43" r="2.25"/><circle cx="616.83" cy="520.82" r="2.25"/><circle cx="617.35" cy="520.66" r="2.25"/><circle cx="617.88" cy="520.77" r="2.25"/><circle cx="618.40" cy="520.53" r="2.25"/><circle cx="618.92" cy="520.63" r="2.25"/><circle cx="619.45" cy="520.80" r="2.25"/><circle cx="619.97" cy="521.09" r="2.25"/><circle cx="620.50" cy="520.52" r="2.25"/></g>
<polyline fill="none" stroke="#1fae48" stroke-width="0.70"  points="652.38,338.82 654.14,345.26 652.48,362.57 655.21,371.49 653.33,380.60 654.73,387.72 655.86,394.79 655.18,401.86 655.87,408.00 658.02,415.63 656.82,420.29 657.90,427.18 658.39,432.46 658.55,439.78 660.77,443.74 660.42,451.11 659.58,457.04 661.31,462.01 661.83,467.77 662.36,473.41 662.88,478.81 663.40,483.72 663.93,488.23 664.45,492.29 664.98,496.03 665.50,499.52 666.02,502.73 666.55,505.68 667.07,508.34 667.60,510.72 668.12,512.91 668.64,514.95 669.17,516.58 669.69,517.88 670.22,518.88 670.74,519.65 671.26,520.05 671.79,520.34 672.31,520.49 672.84,520.26 673.36,520.64 673.88,520.63 674.41,520.72 674.93,520.52 675.46,520.62 675.98,520.76 676.50,520.67 677.03,520.85 677.55,520.71 678.08,520.72 678.60,520.44"/>
<g fill="#fff" stroke="#1fae48" stroke-width="0.70"><circle cx="652.38" cy="338.82" r="2.25"/><circle cx="652.90" cy="340.75" r="2.25"/><circle cx="654.14" cy="345.26" r="2.25"/><circle cx="653.64" cy="350.46" r="2.25"/><circle cx="652.48" cy="362.57" r="2.25"/><circle cx="653.30" cy="365.24" r="2.25"/><circle cx="655.21" cy="371.49" r="2.25"/><circle cx="654.65" cy="374.22" r="2.25"/><circle cx="653.33" cy="380.60" r="2.25"/><circle cx="653.75" cy="382.73" r="2.25"/><circle cx="654.73" cy="387.72" r="2.25"/><circle cx="655.07" cy="389.84" r="2.25"/><circle cx="655.86" cy="394.79" r="2.25"/><circle cx="655.66" cy="396.91" r="2.25"/><circle cx="655.18" cy="401.86" r="2.25"/><circle cx="655.39" cy="403.70" r="2.25"/><circle cx="655.87" cy="408.00" r="2.25"/><circle cx="656.51" cy="410.29" r="2.25"/><circle cx="658.02" cy="415.63" r="2.25"/><circle cx="657.66" cy="417.02" r="2.25"/><circle cx="656.82" cy="420.29" r="2.25"/><circle cx="657.14" cy="422.35" r="2.25"/><circle cx="657.90" cy="427.18" r="2.25"/><circle cx="658.05" cy="428.76" r="2.25"/><circle cx="658.39" cy="432.46" r="2.25"/><circle cx="658.44" cy="434.65" r="2.25"/><circle cx="658.55" cy="439.78" r="2.25"/><circle cx="659.22" cy="440.97" r="2.25"/><circle cx="660.77" cy="443.74" r="2.25"/><circle cx="660.66" cy="445.95" r="2.25"/><circle cx="660.42" cy="451.11" r="2.25"/><circle cx="660.17" cy="452.88" r="2.25"/><circle cx="659.58" cy="457.04" r="2.25"/><circle cx="660.10" cy="458.53" r="2.25"/><circle cx="661.31" cy="462.01" r="2.25"/><circle cx="661.47" cy="463.74" r="2.25"/><circle cx="661.83" cy="467.77" r="2.25"/><circle cx="661.99" cy="469.46" r="2.25"/><circle cx="662.36" cy="473.41" r="2.25"/><circle cx="662.51" cy="475.03" r="2.25"/><circle cx="662.88" cy="478.81" r="2.25"/><circle cx="663.04" cy="480.28" r="2.25"/><circle cx="663.40" cy="483.72" r="2.25"/><circle cx="663.56" cy="485.08" r="2.25"/><circle cx="663.93" cy="488.23" r="2.25"/><circle cx="664.09" cy="489.45" r="2.25"/><circle cx="664.45" cy="492.29" r="2.25"/><circle cx="664.61" cy="493.41" r="2.25"/><circle cx="664.98" cy="496.03" r="2.25"/><circle cx="665.13" cy="497.08" r="2.25"/><circle cx="665.50" cy="499.52" r="2.25"/><circle cx="665.66" cy="500.49" r="2.25"/><circle cx="666.02" cy="502.73" r="2.25"/><circle cx="666.55" cy="505.68" r="2.25"/><circle cx="667.07" cy="508.34" r="2.25"/><circle cx="667.60" cy="510.72" r="2.25"/><circle cx="668.12" cy="512.91" r="2.25"/><circle cx="668.64" cy="514.95" r="2.25"/><circle cx="669.17" cy="516.58" r="2.25"/><circle cx="669.69" cy="517.88" r="2.25"/><circle cx="670.22" cy="518.88" r="2.25"/><circle cx="670.74" cy="519.65" r="2.25"/><circle cx="671.26" cy="520.05" r="2.25"/><circle cx="671.79" cy="520.34" r="2.25"/><circle cx="672.31" cy="520.49" r="2.25"/><circle cx="672.84" cy="520.26" r="2.25"/><circle cx="673.36" cy="520.64" r="2.25"/><circle cx="673.88" cy="520.63" r="2.25"/><circle cx="674.41" cy="520.72" r="2.25"/><circle cx="674.93" cy="520.52" r="2.25"/><circle cx="675.46" cy="520.62" r="2.25"/><circle cx="675.98" cy="520.76" r="2.25"/><circle cx="676.50" cy="520.67" r="2.25"/><circle cx="677.03" cy="520.85" r="2.25"/><circle cx="677.55" cy="520.71" r="2.25"/><circle cx="678.08" cy="520.72" r="2.25"/><circle cx="678.60" cy="520.44" r="2.25"/></g>
<polyline fill="none" stroke="#16236c" stroke-width="0.80"  points="50.30,522.10 50.82,522.33 51.35,522.70 51.87,522.03 52.40,522.60 52.92,522.29 53.44,522.34 53.97,522.62 54.49,522.26 55.02,522.35 55.54,522.50 56.06,522.73 56.59,522.22 57.11,522.61 57.64,522.51 58.16,522.46 58.68,522.27 59.21,522.23 59.73,521.99 60.26,522.05 60.78,522.00 61.30,522.54 61.83,522.15 62.35,522.08 62.88,522.02 63.40,522.62 63.92,522.64 64.45,522.48 64.97,522.17 65.50,522.14 66.02,522.18 66.54,522.32 67.07,522.07 67.59,522.30 68.12,522.16 68.64,522.72 69.16,522.73 69.69,522.39 70.21,522.14 70.74,522.72 71.26,522.20 71.78,522.23 72.31,521.95 72.83,522.25 73.36,522.33 73.88,522.35 74.40,522.11 74.93,522.35 75.45,521.95 75.98,522.16 76.50,522.02 77.02,522.27 77.55,521.98 78.07,521.97 78.60,522.19 79.12,522.13 79.64,522.42 80.17,522.37 80.69,522.55 81.60,521.30 81.90,480.80 82.00,472.10 82.20,437.80 82.50,433.50 83.00,426.20 83.20,412.50 83.10,401.00 84.00,388.80 84.90,378.80 85.40,370.00 85.80,361.60 86.30,354.90 87.00,350.20 87.50,345.80 88.40,341.90 88.92,340.80 89.45,339.80 89.97,339.03 90.50,338.57 91.02,338.21 91.54,337.89 92.07,337.62 92.59,337.39 93.12,337.18 93.64,337.00 94.16,336.83 94.69,336.67 95.21,336.52 95.74,336.38 96.26,336.25 96.78,336.13 97.31,336.01 97.83,335.90 98.36,335.80 98.88,335.70 99.40,335.60 99.93,335.51 100.45,335.41 100.98,335.32 101.50,335.22 102.02,335.12 102.55,335.02 103.07,334.92 103.60,334.83 104.12,334.73 104.64,334.64 105.17,334.54 105.69,334.45 106.22,334.36 106.74,334.27 107.26,334.18 107.79,334.10 108.31,334.01 108.84,333.93 109.36,333.85 109.88,333.77 110.41,333.69 110.93,333.61"/>
<g fill="#fff" stroke="#16236c" stroke-width="0.65"><circle cx="50.30" cy="522.10" r="2.15"/><circle cx="50.82" cy="522.33" r="2.15"/><circle cx="51.35" cy="522.70" r="2.15"/><circle cx="51.87" cy="522.03" r="2.15"/><circle cx="52.40" cy="522.60" r="2.15"/><circle cx="52.92" cy="522.29" r="2.15"/><circle cx="53.44" cy="522.34" r="2.15"/><circle cx="53.97" cy="522.62" r="2.15"/><circle cx="54.49" cy="522.26" r="2.15"/><circle cx="55.02" cy="522.35" r="2.15"/><circle cx="55.54" cy="522.50" r="2.15"/><circle cx="56.06" cy="522.73" r="2.15"/><circle cx="56.59" cy="522.22" r="2.15"/><circle cx="57.11" cy="522.61" r="2.15"/><circle cx="57.64" cy="522.51" r="2.15"/><circle cx="58.16" cy="522.46" r="2.15"/><circle cx="58.68" cy="522.27" r="2.15"/><circle cx="59.21" cy="522.23" r="2.15"/><circle cx="59.73" cy="521.99" r="2.15"/><circle cx="60.26" cy="522.05" r="2.15"/><circle cx="60.78" cy="522.00" r="2.15"/><circle cx="61.30" cy="522.54" r="2.15"/><circle cx="61.83" cy="522.15" r="2.15"/><circle cx="62.35" cy="522.08" r="2.15"/><circle cx="62.88" cy="522.02" r="2.15"/><circle cx="63.40" cy="522.62" r="2.15"/><circle cx="63.92" cy="522.64" r="2.15"/><circle cx="64.45" cy="522.48" r="2.15"/><circle cx="64.97" cy="522.17" r="2.15"/><circle cx="65.50" cy="522.14" r="2.15"/><circle cx="66.02" cy="522.18" r="2.15"/><circle cx="66.54" cy="522.32" r="2.15"/><circle cx="67.07" cy="522.07" r="2.15"/><circle cx="67.59" cy="522.30" r="2.15"/><circle cx="68.12" cy="522.16" r="2.15"/><circle cx="68.64" cy="522.72" r="2.15"/><circle cx="69.16" cy="522.73" r="2.15"/><circle cx="69.69" cy="522.39" r="2.15"/><circle cx="70.21" cy="522.14" r="2.15"/><circle cx="70.74" cy="522.72" r="2.15"/><circle cx="71.26" cy="522.20" r="2.15"/><circle cx="71.78" cy="522.23" r="2.15"/><circle cx="72.31" cy="521.95" r="2.15"/><circle cx="72.83" cy="522.25" r="2.15"/><circle cx="73.36" cy="522.33" r="2.15"/><circle cx="73.88" cy="522.35" r="2.15"/><circle cx="74.40" cy="522.11" r="2.15"/><circle cx="74.93" cy="522.35" r="2.15"/><circle cx="75.45" cy="521.95" r="2.15"/><circle cx="75.98" cy="522.16" r="2.15"/><circle cx="76.50" cy="522.02" r="2.15"/><circle cx="77.02" cy="522.27" r="2.15"/><circle cx="77.55" cy="521.98" r="2.15"/><circle cx="78.07" cy="521.97" r="2.15"/><circle cx="78.60" cy="522.19" r="2.15"/><circle cx="79.12" cy="522.13" r="2.15"/><circle cx="79.64" cy="522.42" r="2.15"/><circle cx="80.17" cy="522.37" r="2.15"/><circle cx="80.69" cy="522.55" r="2.15"/><circle cx="81.60" cy="521.30" r="2.15"/><circle cx="81.90" cy="480.80" r="2.15"/><circle cx="82.00" cy="472.10" r="2.15"/><circle cx="82.20" cy="437.80" r="2.15"/><circle cx="82.50" cy="433.50" r="2.15"/><circle cx="83.00" cy="426.20" r="2.15"/><circle cx="83.20" cy="412.50" r="2.15"/><circle cx="83.10" cy="401.00" r="2.15"/><circle cx="84.00" cy="388.80" r="2.15"/><circle cx="84.90" cy="378.80" r="2.15"/><circle cx="85.40" cy="370.00" r="2.15"/><circle cx="85.80" cy="361.60" r="2.15"/><circle cx="86.30" cy="354.90" r="2.15"/><circle cx="87.00" cy="350.20" r="2.15"/><circle cx="87.50" cy="345.80" r="2.15"/><circle cx="88.40" cy="341.90" r="2.15"/><circle cx="88.92" cy="340.80" r="2.15"/><circle cx="89.45" cy="339.80" r="2.15"/><circle cx="89.97" cy="339.03" r="2.15"/><circle cx="90.50" cy="338.57" r="2.15"/><circle cx="91.02" cy="338.21" r="2.15"/><circle cx="91.54" cy="337.89" r="2.15"/><circle cx="92.07" cy="337.62" r="2.15"/><circle cx="92.59" cy="337.39" r="2.15"/><circle cx="93.12" cy="337.18" r="2.15"/><circle cx="93.64" cy="337.00" r="2.15"/><circle cx="94.16" cy="336.83" r="2.15"/><circle cx="94.69" cy="336.67" r="2.15"/><circle cx="95.21" cy="336.52" r="2.15"/><circle cx="95.74" cy="336.38" r="2.15"/><circle cx="96.26" cy="336.25" r="2.15"/><circle cx="96.78" cy="336.13" r="2.15"/><circle cx="97.31" cy="336.01" r="2.15"/><circle cx="97.83" cy="335.90" r="2.15"/><circle cx="98.36" cy="335.80" r="2.15"/><circle cx="98.88" cy="335.70" r="2.15"/><circle cx="99.40" cy="335.60" r="2.15"/><circle cx="99.93" cy="335.51" r="2.15"/><circle cx="100.45" cy="335.41" r="2.15"/><circle cx="100.98" cy="335.32" r="2.15"/><circle cx="101.50" cy="335.22" r="2.15"/><circle cx="102.02" cy="335.12" r="2.15"/><circle cx="102.55" cy="335.02" r="2.15"/><circle cx="103.07" cy="334.92" r="2.15"/><circle cx="103.60" cy="334.83" r="2.15"/><circle cx="104.12" cy="334.73" r="2.15"/><circle cx="104.64" cy="334.64" r="2.15"/><circle cx="105.17" cy="334.54" r="2.15"/><circle cx="105.69" cy="334.45" r="2.15"/><circle cx="106.22" cy="334.36" r="2.15"/><circle cx="106.74" cy="334.27" r="2.15"/><circle cx="107.26" cy="334.18" r="2.15"/><circle cx="107.79" cy="334.10" r="2.15"/><circle cx="108.31" cy="334.01" r="2.15"/><circle cx="108.84" cy="333.93" r="2.15"/><circle cx="109.36" cy="333.85" r="2.15"/><circle cx="109.88" cy="333.77" r="2.15"/><circle cx="110.41" cy="333.69" r="2.15"/><circle cx="110.93" cy="333.61" r="2.15"/></g>
<polyline fill="none" stroke="#16236c" stroke-width="0.80"  points="142.10,519.00 142.62,515.96 143.15,515.97 143.67,515.20 144.20,514.94 144.72,515.54 145.24,514.35 145.77,514.85 146.29,514.50 146.82,514.50 147.34,510.52 147.86,504.13 148.39,494.91 148.91,480.24 149.44,464.29 149.96,450.79 150.48,440.06 151.01,430.06 151.53,421.80 152.06,412.22 152.58,402.13 153.10,393.86 153.63,385.10 154.15,378.09 154.68,372.42 155.20,367.86 155.72,364.08 156.25,360.38 156.77,357.13 157.30,354.01 157.82,351.77 158.34,350.08 158.87,348.80 159.39,347.75 159.92,346.93 160.44,346.25 160.96,345.66 161.49,345.14 162.01,344.67 162.54,344.24 163.06,343.81 163.58,343.41 164.11,343.04 164.63,342.69 165.16,342.36 165.68,342.05 166.20,341.76 166.73,341.46 167.25,341.17 167.78,340.88 168.30,340.61 168.82,340.35 169.35,340.11 169.87,339.91 170.40,339.73 170.92,339.60"/>
<g fill="#fff" stroke="#16236c" stroke-width="0.65"><circle cx="142.10" cy="519.00" r="2.15"/><circle cx="142.24" cy="518.18" r="2.15"/><circle cx="142.62" cy="515.96" r="2.15"/><circle cx="143.15" cy="515.97" r="2.15"/><circle cx="143.67" cy="515.20" r="2.15"/><circle cx="144.20" cy="514.94" r="2.15"/><circle cx="144.72" cy="515.54" r="2.15"/><circle cx="145.24" cy="514.35" r="2.15"/><circle cx="145.77" cy="514.85" r="2.15"/><circle cx="146.29" cy="514.50" r="2.15"/><circle cx="146.82" cy="514.50" r="2.15"/><circle cx="146.96" cy="513.43" r="2.15"/><circle cx="147.34" cy="510.52" r="2.15"/><circle cx="147.48" cy="508.80" r="2.15"/><circle cx="147.86" cy="504.13" r="2.15"/><circle cx="148.01" cy="501.64" r="2.15"/><circle cx="148.39" cy="494.91" r="2.15"/><circle cx="148.53" cy="490.95" r="2.15"/><circle cx="148.91" cy="480.24" r="2.15"/><circle cx="149.05" cy="475.93" r="2.15"/><circle cx="149.44" cy="464.29" r="2.15"/><circle cx="149.58" cy="460.64" r="2.15"/><circle cx="149.96" cy="450.79" r="2.15"/><circle cx="150.10" cy="447.89" r="2.15"/><circle cx="150.48" cy="440.06" r="2.15"/><circle cx="150.63" cy="437.36" r="2.15"/><circle cx="151.01" cy="430.06" r="2.15"/><circle cx="151.15" cy="427.83" r="2.15"/><circle cx="151.53" cy="421.80" r="2.15"/><circle cx="151.67" cy="419.21" r="2.15"/><circle cx="152.06" cy="412.22" r="2.15"/><circle cx="152.20" cy="409.49" r="2.15"/><circle cx="152.58" cy="402.13" r="2.15"/><circle cx="152.72" cy="399.90" r="2.15"/><circle cx="153.10" cy="393.86" r="2.15"/><circle cx="153.25" cy="391.49" r="2.15"/><circle cx="153.63" cy="385.10" r="2.15"/><circle cx="153.77" cy="383.21" r="2.15"/><circle cx="154.15" cy="378.09" r="2.15"/><circle cx="154.29" cy="376.56" r="2.15"/><circle cx="154.68" cy="372.42" r="2.15"/><circle cx="154.82" cy="371.19" r="2.15"/><circle cx="155.20" cy="367.86" r="2.15"/><circle cx="155.34" cy="366.84" r="2.15"/><circle cx="155.72" cy="364.08" r="2.15"/><circle cx="155.87" cy="363.08" r="2.15"/><circle cx="156.25" cy="360.38" r="2.15"/><circle cx="156.39" cy="359.50" r="2.15"/><circle cx="156.77" cy="357.13" r="2.15"/><circle cx="156.91" cy="356.29" r="2.15"/><circle cx="157.30" cy="354.01" r="2.15"/><circle cx="157.82" cy="351.77" r="2.15"/><circle cx="158.34" cy="350.08" r="2.15"/><circle cx="158.87" cy="348.80" r="2.15"/><circle cx="159.39" cy="347.75" r="2.15"/><circle cx="159.92" cy="346.93" r="2.15"/><circle cx="160.44" cy="346.25" r="2.15"/><circle cx="160.96" cy="345.66" r="2.15"/><circle cx="161.49" cy="345.14" r="2.15"/><circle cx="162.01" cy="344.67" r="2.15"/><circle cx="162.54" cy="344.24" r="2.15"/><circle cx="163.06" cy="343.81" r="2.15"/><circle cx="163.58" cy="343.41" r="2.15"/><circle cx="164.11" cy="343.04" r="2.15"/><circle cx="164.63" cy="342.69" r="2.15"/><circle cx="165.16" cy="342.36" r="2.15"/><circle cx="165.68" cy="342.05" r="2.15"/><circle cx="166.20" cy="341.76" r="2.15"/><circle cx="166.73" cy="341.46" r="2.15"/><circle cx="167.25" cy="341.17" r="2.15"/><circle cx="167.78" cy="340.88" r="2.15"/><circle cx="168.30" cy="340.61" r="2.15"/><circle cx="168.82" cy="340.35" r="2.15"/><circle cx="169.35" cy="340.11" r="2.15"/><circle cx="169.87" cy="339.91" r="2.15"/><circle cx="170.40" cy="339.73" r="2.15"/><circle cx="170.92" cy="339.60" r="2.15"/></g>
<polyline fill="none" stroke="#16236c" stroke-width="0.80"  points="201.30,519.00 201.82,514.96 202.35,515.59 202.87,515.35 203.40,514.72 203.92,514.50 204.44,514.50 204.97,508.97 205.49,502.32 206.02,491.55 206.54,476.39 207.06,460.45 207.59,448.09 208.11,437.57 208.64,427.91 209.16,419.61 209.68,409.77 210.21,400.07 210.73,391.56 211.26,383.21 211.78,376.61 212.30,371.19 212.83,366.89 213.35,363.20 213.88,359.48 214.40,356.28 214.92,353.24 215.45,351.09 215.97,349.48 216.50,348.20 217.02,347.15 217.54,346.32 218.07,345.61 218.59,344.98 219.12,344.42 219.64,343.90 220.16,343.41 220.69,342.94 221.21,342.49 221.74,342.06 222.26,341.66 222.78,341.28 223.31,340.92 223.83,340.57 224.36,340.22 224.88,339.87 225.40,339.53 225.93,339.20 226.45,338.89 226.98,338.61 227.50,338.35 228.02,338.13 228.55,337.95 229.07,337.77 229.60,337.60 230.12,337.44 230.64,337.28"/>
<g fill="#fff" stroke="#16236c" stroke-width="0.65"><circle cx="201.30" cy="519.00" r="2.15"/><circle cx="201.44" cy="517.91" r="2.15"/><circle cx="201.82" cy="514.96" r="2.15"/><circle cx="202.35" cy="515.59" r="2.15"/><circle cx="202.87" cy="515.35" r="2.15"/><circle cx="203.40" cy="514.72" r="2.15"/><circle cx="203.92" cy="514.50" r="2.15"/><circle cx="204.44" cy="514.50" r="2.15"/><circle cx="204.59" cy="513.01" r="2.15"/><circle cx="204.97" cy="508.97" r="2.15"/><circle cx="205.11" cy="507.18" r="2.15"/><circle cx="205.49" cy="502.32" r="2.15"/><circle cx="205.63" cy="499.42" r="2.15"/><circle cx="206.02" cy="491.55" r="2.15"/><circle cx="206.16" cy="487.46" r="2.15"/><circle cx="206.54" cy="476.39" r="2.15"/><circle cx="206.68" cy="472.08" r="2.15"/><circle cx="207.06" cy="460.45" r="2.15"/><circle cx="207.21" cy="457.11" r="2.15"/><circle cx="207.59" cy="448.09" r="2.15"/><circle cx="207.73" cy="445.25" r="2.15"/><circle cx="208.11" cy="437.57" r="2.15"/><circle cx="208.25" cy="434.96" r="2.15"/><circle cx="208.64" cy="427.91" r="2.15"/><circle cx="208.78" cy="425.67" r="2.15"/><circle cx="209.16" cy="419.61" r="2.15"/><circle cx="209.30" cy="416.95" r="2.15"/><circle cx="209.68" cy="409.77" r="2.15"/><circle cx="209.83" cy="407.15" r="2.15"/><circle cx="210.21" cy="400.07" r="2.15"/><circle cx="210.35" cy="397.77" r="2.15"/><circle cx="210.73" cy="391.56" r="2.15"/><circle cx="210.87" cy="389.31" r="2.15"/><circle cx="211.26" cy="383.21" r="2.15"/><circle cx="211.40" cy="381.43" r="2.15"/><circle cx="211.78" cy="376.61" r="2.15"/><circle cx="211.92" cy="375.15" r="2.15"/><circle cx="212.30" cy="371.19" r="2.15"/><circle cx="212.45" cy="370.03" r="2.15"/><circle cx="212.83" cy="366.89" r="2.15"/><circle cx="212.97" cy="365.89" r="2.15"/><circle cx="213.35" cy="363.20" r="2.15"/><circle cx="213.49" cy="362.19" r="2.15"/><circle cx="213.88" cy="359.48" r="2.15"/><circle cx="214.02" cy="358.62" r="2.15"/><circle cx="214.40" cy="356.28" r="2.15"/><circle cx="214.54" cy="355.46" r="2.15"/><circle cx="214.92" cy="353.24" r="2.15"/><circle cx="215.45" cy="351.09" r="2.15"/><circle cx="215.97" cy="349.48" r="2.15"/><circle cx="216.50" cy="348.20" r="2.15"/><circle cx="217.02" cy="347.15" r="2.15"/><circle cx="217.54" cy="346.32" r="2.15"/><circle cx="218.07" cy="345.61" r="2.15"/><circle cx="218.59" cy="344.98" r="2.15"/><circle cx="219.12" cy="344.42" r="2.15"/><circle cx="219.64" cy="343.90" r="2.15"/><circle cx="220.16" cy="343.41" r="2.15"/><circle cx="220.69" cy="342.94" r="2.15"/><circle cx="221.21" cy="342.49" r="2.15"/><circle cx="221.74" cy="342.06" r="2.15"/><circle cx="222.26" cy="341.66" r="2.15"/><circle cx="222.78" cy="341.28" r="2.15"/><circle cx="223.31" cy="340.92" r="2.15"/><circle cx="223.83" cy="340.57" r="2.15"/><circle cx="224.36" cy="340.22" r="2.15"/><circle cx="224.88" cy="339.87" r="2.15"/><circle cx="225.40" cy="339.53" r="2.15"/><circle cx="225.93" cy="339.20" r="2.15"/><circle cx="226.45" cy="338.89" r="2.15"/><circle cx="226.98" cy="338.61" r="2.15"/><circle cx="227.50" cy="338.35" r="2.15"/><circle cx="228.02" cy="338.13" r="2.15"/><circle cx="228.55" cy="337.95" r="2.15"/><circle cx="229.07" cy="337.77" r="2.15"/><circle cx="229.60" cy="337.60" r="2.15"/><circle cx="230.12" cy="337.44" r="2.15"/><circle cx="230.64" cy="337.28" r="2.15"/></g>
<polyline fill="none" stroke="#16236c" stroke-width="0.80"  points="261.60,519.00 262.12,516.12 262.65,515.15 263.17,515.46 263.70,515.27 264.22,515.51 264.74,515.31 265.27,515.18 265.79,514.73 266.32,514.50 266.84,514.50 267.36,512.64 267.89,506.42 268.41,498.72 268.94,485.46 269.46,469.61 269.98,454.71 270.51,443.55 271.03,433.30 271.56,424.54 272.08,415.56 272.60,405.39 273.13,396.76 273.65,387.84 274.18,380.25 274.70,374.21 275.22,369.27 275.75,365.29 276.27,361.63 276.80,358.15 277.32,354.99 277.84,352.41 278.37,350.53 278.89,349.13 279.42,347.99 279.94,347.07 280.46,346.35 280.99,345.72 281.51,345.16 282.04,344.66 282.56,344.20 283.08,343.76 283.61,343.33 284.13,342.94 284.66,342.56 285.18,342.21 285.70,341.88 286.23,341.57 286.75,341.26 287.28,340.95 287.80,340.65 288.32,340.35 288.85,340.07 289.37,339.82 289.90,339.59 290.42,339.39 290.94,339.22"/>
<g fill="#fff" stroke="#16236c" stroke-width="0.65"><circle cx="261.60" cy="519.00" r="2.15"/><circle cx="262.12" cy="516.12" r="2.15"/><circle cx="262.65" cy="515.15" r="2.15"/><circle cx="263.17" cy="515.46" r="2.15"/><circle cx="263.70" cy="515.27" r="2.15"/><circle cx="264.22" cy="515.51" r="2.15"/><circle cx="264.74" cy="515.31" r="2.15"/><circle cx="265.27" cy="515.18" r="2.15"/><circle cx="265.79" cy="514.73" r="2.15"/><circle cx="266.32" cy="514.50" r="2.15"/><circle cx="266.84" cy="514.50" r="2.15"/><circle cx="267.36" cy="512.64" r="2.15"/><circle cx="267.51" cy="510.96" r="2.15"/><circle cx="267.89" cy="506.42" r="2.15"/><circle cx="268.03" cy="504.34" r="2.15"/><circle cx="268.41" cy="498.72" r="2.15"/><circle cx="268.55" cy="495.14" r="2.15"/><circle cx="268.94" cy="485.46" r="2.15"/><circle cx="269.08" cy="481.18" r="2.15"/><circle cx="269.46" cy="469.61" r="2.15"/><circle cx="269.60" cy="465.59" r="2.15"/><circle cx="269.98" cy="454.71" r="2.15"/><circle cx="270.13" cy="451.70" r="2.15"/><circle cx="270.51" cy="443.55" r="2.15"/><circle cx="270.65" cy="440.78" r="2.15"/><circle cx="271.03" cy="433.30" r="2.15"/><circle cx="271.17" cy="430.94" r="2.15"/><circle cx="271.56" cy="424.54" r="2.15"/><circle cx="271.70" cy="422.12" r="2.15"/><circle cx="272.08" cy="415.56" r="2.15"/><circle cx="272.22" cy="412.82" r="2.15"/><circle cx="272.60" cy="405.39" r="2.15"/><circle cx="272.75" cy="403.06" r="2.15"/><circle cx="273.13" cy="396.76" r="2.15"/><circle cx="273.27" cy="394.35" r="2.15"/><circle cx="273.65" cy="387.84" r="2.15"/><circle cx="273.79" cy="385.79" r="2.15"/><circle cx="274.18" cy="380.25" r="2.15"/><circle cx="274.32" cy="378.62" r="2.15"/><circle cx="274.70" cy="374.21" r="2.15"/><circle cx="274.84" cy="372.88" r="2.15"/><circle cx="275.22" cy="369.27" r="2.15"/><circle cx="275.37" cy="368.19" r="2.15"/><circle cx="275.75" cy="365.29" r="2.15"/><circle cx="275.89" cy="364.30" r="2.15"/><circle cx="276.27" cy="361.63" r="2.15"/><circle cx="276.41" cy="360.69" r="2.15"/><circle cx="276.80" cy="358.15" r="2.15"/><circle cx="276.94" cy="357.29" r="2.15"/><circle cx="277.32" cy="354.99" r="2.15"/><circle cx="277.84" cy="352.41" r="2.15"/><circle cx="278.37" cy="350.53" r="2.15"/><circle cx="278.89" cy="349.13" r="2.15"/><circle cx="279.42" cy="347.99" r="2.15"/><circle cx="279.94" cy="347.07" r="2.15"/><circle cx="280.46" cy="346.35" r="2.15"/><circle cx="280.99" cy="345.72" r="2.15"/><circle cx="281.51" cy="345.16" r="2.15"/><circle cx="282.04" cy="344.66" r="2.15"/><circle cx="282.56" cy="344.20" r="2.15"/><circle cx="283.08" cy="343.76" r="2.15"/><circle cx="283.61" cy="343.33" r="2.15"/><circle cx="284.13" cy="342.94" r="2.15"/><circle cx="284.66" cy="342.56" r="2.15"/><circle cx="285.18" cy="342.21" r="2.15"/><circle cx="285.70" cy="341.88" r="2.15"/><circle cx="286.23" cy="341.57" r="2.15"/><circle cx="286.75" cy="341.26" r="2.15"/><circle cx="287.28" cy="340.95" r="2.15"/><circle cx="287.80" cy="340.65" r="2.15"/><circle cx="288.32" cy="340.35" r="2.15"/><circle cx="288.85" cy="340.07" r="2.15"/><circle cx="289.37" cy="339.82" r="2.15"/><circle cx="289.90" cy="339.59" r="2.15"/><circle cx="290.42" cy="339.39" r="2.15"/><circle cx="290.94" cy="339.22" r="2.15"/></g>
<polyline fill="none" stroke="#16236c" stroke-width="0.80"  points="321.80,519.00 322.32,518.45 322.85,515.42 323.37,510.12 323.90,503.69 324.42,494.10 324.94,479.28 325.47,463.31 325.99,450.11 326.52,439.44 327.04,429.50 327.56,421.27 328.09,411.61 328.61,401.59 329.14,393.29 329.66,384.62 330.18,377.71 330.71,372.10 331.23,367.62 331.76,363.86 332.28,360.13 332.80,356.85 333.33,353.68 333.85,351.43 334.38,349.71 334.90,348.39 335.42,347.29 335.95,346.41 336.47,345.68 337.00,345.04 337.52,344.46 338.04,343.93 338.57,343.43 339.09,342.95 339.62,342.49 340.14,342.05 340.66,341.64 341.19,341.25 341.71,340.88 342.24,340.53 342.76,340.17 343.28,339.81 343.81,339.46 344.33,339.13 344.86,338.81 345.38,338.52 345.90,338.25 346.43,338.01 346.95,337.82 347.48,337.64 348.00,337.46 348.52,337.29 349.05,337.13 349.57,336.98 350.10,336.84 350.62,336.72"/>
<g fill="#fff" stroke="#16236c" stroke-width="0.65"><circle cx="321.80" cy="519.00" r="2.15"/><circle cx="322.32" cy="518.45" r="2.15"/><circle cx="322.47" cy="517.63" r="2.15"/><circle cx="322.85" cy="515.42" r="2.15"/><circle cx="322.99" cy="513.99" r="2.15"/><circle cx="323.37" cy="510.12" r="2.15"/><circle cx="323.51" cy="508.39" r="2.15"/><circle cx="323.90" cy="503.69" r="2.15"/><circle cx="324.04" cy="501.10" r="2.15"/><circle cx="324.42" cy="494.10" r="2.15"/><circle cx="324.56" cy="490.10" r="2.15"/><circle cx="324.94" cy="479.28" r="2.15"/><circle cx="325.09" cy="474.97" r="2.15"/><circle cx="325.47" cy="463.31" r="2.15"/><circle cx="325.61" cy="459.75" r="2.15"/><circle cx="325.99" cy="450.11" r="2.15"/><circle cx="326.13" cy="447.23" r="2.15"/><circle cx="326.52" cy="439.44" r="2.15"/><circle cx="326.66" cy="436.76" r="2.15"/><circle cx="327.04" cy="429.50" r="2.15"/><circle cx="327.18" cy="427.28" r="2.15"/><circle cx="327.56" cy="421.27" r="2.15"/><circle cx="327.71" cy="418.66" r="2.15"/><circle cx="328.09" cy="411.61" r="2.15"/><circle cx="328.23" cy="408.90" r="2.15"/><circle cx="328.61" cy="401.59" r="2.15"/><circle cx="328.75" cy="399.35" r="2.15"/><circle cx="329.14" cy="393.29" r="2.15"/><circle cx="329.28" cy="390.95" r="2.15"/><circle cx="329.66" cy="384.62" r="2.15"/><circle cx="329.80" cy="382.75" r="2.15"/><circle cx="330.18" cy="377.71" r="2.15"/><circle cx="330.33" cy="376.20" r="2.15"/><circle cx="330.71" cy="372.10" r="2.15"/><circle cx="330.85" cy="370.89" r="2.15"/><circle cx="331.23" cy="367.62" r="2.15"/><circle cx="331.37" cy="366.60" r="2.15"/><circle cx="331.76" cy="363.86" r="2.15"/><circle cx="331.90" cy="362.85" r="2.15"/><circle cx="332.28" cy="360.13" r="2.15"/><circle cx="332.42" cy="359.24" r="2.15"/><circle cx="332.80" cy="356.85" r="2.15"/><circle cx="332.95" cy="355.99" r="2.15"/><circle cx="333.33" cy="353.68" r="2.15"/><circle cx="333.85" cy="351.43" r="2.15"/><circle cx="334.38" cy="349.71" r="2.15"/><circle cx="334.90" cy="348.39" r="2.15"/><circle cx="335.42" cy="347.29" r="2.15"/><circle cx="335.95" cy="346.41" r="2.15"/><circle cx="336.47" cy="345.68" r="2.15"/><circle cx="337.00" cy="345.04" r="2.15"/><circle cx="337.52" cy="344.46" r="2.15"/><circle cx="338.04" cy="343.93" r="2.15"/><circle cx="338.57" cy="343.43" r="2.15"/><circle cx="339.09" cy="342.95" r="2.15"/><circle cx="339.62" cy="342.49" r="2.15"/><circle cx="340.14" cy="342.05" r="2.15"/><circle cx="340.66" cy="341.64" r="2.15"/><circle cx="341.19" cy="341.25" r="2.15"/><circle cx="341.71" cy="340.88" r="2.15"/><circle cx="342.24" cy="340.53" r="2.15"/><circle cx="342.76" cy="340.17" r="2.15"/><circle cx="343.28" cy="339.81" r="2.15"/><circle cx="343.81" cy="339.46" r="2.15"/><circle cx="344.33" cy="339.13" r="2.15"/><circle cx="344.86" cy="338.81" r="2.15"/><circle cx="345.38" cy="338.52" r="2.15"/><circle cx="345.90" cy="338.25" r="2.15"/><circle cx="346.43" cy="338.01" r="2.15"/><circle cx="346.95" cy="337.82" r="2.15"/><circle cx="347.48" cy="337.64" r="2.15"/><circle cx="348.00" cy="337.46" r="2.15"/><circle cx="348.52" cy="337.29" r="2.15"/><circle cx="349.05" cy="337.13" r="2.15"/><circle cx="349.57" cy="336.98" r="2.15"/><circle cx="350.10" cy="336.84" r="2.15"/><circle cx="350.62" cy="336.72" r="2.15"/></g>
<polyline fill="none" stroke="#16236c" stroke-width="0.80"  points="381.50,519.00 382.02,519.44 382.55,517.36 383.07,513.57 383.60,507.50 384.12,500.33 384.64,488.07 385.17,472.44 385.69,456.95 386.22,445.42 386.74,435.08 387.26,425.93 387.79,417.29 388.31,407.22 388.84,398.15 389.36,389.33 389.88,381.45 390.41,375.20 390.93,370.04 391.46,365.94 391.98,362.29 392.50,358.66 393.03,355.47 393.55,352.65 394.08,350.63 394.60,349.11 395.12,347.88 395.65,346.88 396.17,346.08 396.70,345.39 397.22,344.77 397.74,344.22 398.27,343.70 398.79,343.21 399.32,342.73 399.84,342.28 400.36,341.86 400.89,341.45 401.41,341.07 401.94,340.71 402.46,340.35 402.98,339.99 403.51,339.64 404.03,339.29 404.56,338.96 405.08,338.65 405.60,338.37 406.13,338.12 406.65,337.90 407.18,337.71 407.70,337.53 408.22,337.36 408.75,337.19 409.27,337.03 409.80,336.88 410.32,336.75"/>
<g fill="#fff" stroke="#16236c" stroke-width="0.65"><circle cx="381.50" cy="519.00" r="2.15"/><circle cx="382.02" cy="519.44" r="2.15"/><circle cx="382.55" cy="517.36" r="2.15"/><circle cx="382.69" cy="516.34" r="2.15"/><circle cx="383.07" cy="513.57" r="2.15"/><circle cx="383.21" cy="511.93" r="2.15"/><circle cx="383.60" cy="507.50" r="2.15"/><circle cx="383.74" cy="505.56" r="2.15"/><circle cx="384.12" cy="500.33" r="2.15"/><circle cx="384.26" cy="497.02" r="2.15"/><circle cx="384.64" cy="488.07" r="2.15"/><circle cx="384.79" cy="483.85" r="2.15"/><circle cx="385.17" cy="472.44" r="2.15"/><circle cx="385.31" cy="468.26" r="2.15"/><circle cx="385.69" cy="456.95" r="2.15"/><circle cx="385.83" cy="453.84" r="2.15"/><circle cx="386.22" cy="445.42" r="2.15"/><circle cx="386.36" cy="442.63" r="2.15"/><circle cx="386.74" cy="435.08" r="2.15"/><circle cx="386.88" cy="432.61" r="2.15"/><circle cx="387.26" cy="425.93" r="2.15"/><circle cx="387.41" cy="423.60" r="2.15"/><circle cx="387.79" cy="417.29" r="2.15"/><circle cx="387.93" cy="414.57" r="2.15"/><circle cx="388.31" cy="407.22" r="2.15"/><circle cx="388.45" cy="404.77" r="2.15"/><circle cx="388.84" cy="398.15" r="2.15"/><circle cx="388.98" cy="395.77" r="2.15"/><circle cx="389.36" cy="389.33" r="2.15"/><circle cx="389.50" cy="387.20" r="2.15"/><circle cx="389.88" cy="381.45" r="2.15"/><circle cx="390.03" cy="379.76" r="2.15"/><circle cx="390.41" cy="375.20" r="2.15"/><circle cx="390.55" cy="373.80" r="2.15"/><circle cx="390.93" cy="370.04" r="2.15"/><circle cx="391.07" cy="368.94" r="2.15"/><circle cx="391.46" cy="365.94" r="2.15"/><circle cx="391.60" cy="364.96" r="2.15"/><circle cx="391.98" cy="362.29" r="2.15"/><circle cx="392.12" cy="361.31" r="2.15"/><circle cx="392.50" cy="358.66" r="2.15"/><circle cx="392.65" cy="357.80" r="2.15"/><circle cx="393.03" cy="355.47" r="2.15"/><circle cx="393.55" cy="352.65" r="2.15"/><circle cx="394.08" cy="350.63" r="2.15"/><circle cx="394.60" cy="349.11" r="2.15"/><circle cx="395.12" cy="347.88" r="2.15"/><circle cx="395.65" cy="346.88" r="2.15"/><circle cx="396.17" cy="346.08" r="2.15"/><circle cx="396.70" cy="345.39" r="2.15"/><circle cx="397.22" cy="344.77" r="2.15"/><circle cx="397.74" cy="344.22" r="2.15"/><circle cx="398.27" cy="343.70" r="2.15"/><circle cx="398.79" cy="343.21" r="2.15"/><circle cx="399.32" cy="342.73" r="2.15"/><circle cx="399.84" cy="342.28" r="2.15"/><circle cx="400.36" cy="341.86" r="2.15"/><circle cx="400.89" cy="341.45" r="2.15"/><circle cx="401.41" cy="341.07" r="2.15"/><circle cx="401.94" cy="340.71" r="2.15"/><circle cx="402.46" cy="340.35" r="2.15"/><circle cx="402.98" cy="339.99" r="2.15"/><circle cx="403.51" cy="339.64" r="2.15"/><circle cx="404.03" cy="339.29" r="2.15"/><circle cx="404.56" cy="338.96" r="2.15"/><circle cx="405.08" cy="338.65" r="2.15"/><circle cx="405.60" cy="338.37" r="2.15"/><circle cx="406.13" cy="338.12" r="2.15"/><circle cx="406.65" cy="337.90" r="2.15"/><circle cx="407.18" cy="337.71" r="2.15"/><circle cx="407.70" cy="337.53" r="2.15"/><circle cx="408.22" cy="337.36" r="2.15"/><circle cx="408.75" cy="337.19" r="2.15"/><circle cx="409.27" cy="337.03" r="2.15"/><circle cx="409.80" cy="336.88" r="2.15"/><circle cx="410.32" cy="336.75" r="2.15"/></g>
<polyline fill="none" stroke="#16236c" stroke-width="0.80"  points="441.90,518.54 442.42,515.59 442.95,510.42 443.47,504.02 444.00,494.71 444.52,480.00 445.04,464.04 445.57,450.62 446.09,439.91 446.62,429.92 447.14,421.67 447.66,412.06 448.19,401.99 448.71,393.72 449.24,384.98 449.76,377.99 450.28,372.34 450.81,367.80 451.33,364.02 451.86,360.31 452.38,357.01 452.90,353.85 453.43,351.57 453.95,349.85 454.48,348.53 455.00,347.44 455.52,346.57 456.05,345.85 456.57,345.22 457.10,344.65 457.62,344.13 458.14,343.65 458.67,343.18 459.19,342.73 459.72,342.31 460.24,341.92 460.76,341.54 461.29,341.19 461.81,340.85 462.34,340.50 462.86,340.16 463.38,339.83 463.91,339.51 464.43,339.21 464.96,338.93 465.48,338.67 466.00,338.45 466.53,338.27 467.05,338.11 467.58,337.95 468.10,337.79 468.62,337.64 469.15,337.51 469.67,337.39 470.20,337.28 470.72,337.20"/>
<g fill="#fff" stroke="#16236c" stroke-width="0.65"><circle cx="441.90" cy="518.54" r="2.15"/><circle cx="442.42" cy="515.59" r="2.15"/><circle cx="442.57" cy="514.20" r="2.15"/><circle cx="442.95" cy="510.42" r="2.15"/><circle cx="443.09" cy="508.69" r="2.15"/><circle cx="443.47" cy="504.02" r="2.15"/><circle cx="443.61" cy="501.51" r="2.15"/><circle cx="444.00" cy="494.71" r="2.15"/><circle cx="444.14" cy="490.74" r="2.15"/><circle cx="444.52" cy="480.00" r="2.15"/><circle cx="444.66" cy="475.69" r="2.15"/><circle cx="445.04" cy="464.04" r="2.15"/><circle cx="445.19" cy="460.42" r="2.15"/><circle cx="445.57" cy="450.62" r="2.15"/><circle cx="445.71" cy="447.73" r="2.15"/><circle cx="446.09" cy="439.91" r="2.15"/><circle cx="446.23" cy="437.21" r="2.15"/><circle cx="446.62" cy="429.92" r="2.15"/><circle cx="446.76" cy="427.69" r="2.15"/><circle cx="447.14" cy="421.67" r="2.15"/><circle cx="447.28" cy="419.08" r="2.15"/><circle cx="447.66" cy="412.06" r="2.15"/><circle cx="447.81" cy="409.34" r="2.15"/><circle cx="448.19" cy="401.99" r="2.15"/><circle cx="448.33" cy="399.76" r="2.15"/><circle cx="448.71" cy="393.72" r="2.15"/><circle cx="448.85" cy="391.36" r="2.15"/><circle cx="449.24" cy="384.98" r="2.15"/><circle cx="449.38" cy="383.09" r="2.15"/><circle cx="449.76" cy="377.99" r="2.15"/><circle cx="449.90" cy="376.47" r="2.15"/><circle cx="450.28" cy="372.34" r="2.15"/><circle cx="450.43" cy="371.11" r="2.15"/><circle cx="450.81" cy="367.80" r="2.15"/><circle cx="450.95" cy="366.78" r="2.15"/><circle cx="451.33" cy="364.02" r="2.15"/><circle cx="451.47" cy="363.02" r="2.15"/><circle cx="451.86" cy="360.31" r="2.15"/><circle cx="452.00" cy="359.42" r="2.15"/><circle cx="452.38" cy="357.01" r="2.15"/><circle cx="452.52" cy="356.16" r="2.15"/><circle cx="452.90" cy="353.85" r="2.15"/><circle cx="453.43" cy="351.57" r="2.15"/><circle cx="453.95" cy="349.85" r="2.15"/><circle cx="454.48" cy="348.53" r="2.15"/><circle cx="455.00" cy="347.44" r="2.15"/><circle cx="455.52" cy="346.57" r="2.15"/><circle cx="456.05" cy="345.85" r="2.15"/><circle cx="456.57" cy="345.22" r="2.15"/><circle cx="457.10" cy="344.65" r="2.15"/><circle cx="457.62" cy="344.13" r="2.15"/><circle cx="458.14" cy="343.65" r="2.15"/><circle cx="458.67" cy="343.18" r="2.15"/><circle cx="459.19" cy="342.73" r="2.15"/><circle cx="459.72" cy="342.31" r="2.15"/><circle cx="460.24" cy="341.92" r="2.15"/><circle cx="460.76" cy="341.54" r="2.15"/><circle cx="461.29" cy="341.19" r="2.15"/><circle cx="461.81" cy="340.85" r="2.15"/><circle cx="462.34" cy="340.50" r="2.15"/><circle cx="462.86" cy="340.16" r="2.15"/><circle cx="463.38" cy="339.83" r="2.15"/><circle cx="463.91" cy="339.51" r="2.15"/><circle cx="464.43" cy="339.21" r="2.15"/><circle cx="464.96" cy="338.93" r="2.15"/><circle cx="465.48" cy="338.67" r="2.15"/><circle cx="466.00" cy="338.45" r="2.15"/><circle cx="466.53" cy="338.27" r="2.15"/><circle cx="467.05" cy="338.11" r="2.15"/><circle cx="467.58" cy="337.95" r="2.15"/><circle cx="468.10" cy="337.79" r="2.15"/><circle cx="468.62" cy="337.64" r="2.15"/><circle cx="469.15" cy="337.51" r="2.15"/><circle cx="469.67" cy="337.39" r="2.15"/><circle cx="470.20" cy="337.28" r="2.15"/><circle cx="470.72" cy="337.20" r="2.15"/></g>
<polyline fill="none" stroke="#16236c" stroke-width="0.80"  points="501.30,519.00 501.82,514.30 502.35,517.90 502.87,514.45 503.40,508.65 503.92,501.91 504.44,490.79 504.97,475.53 505.49,459.65 506.02,447.50 506.54,437.03 507.06,427.47 507.59,419.11 508.11,409.21 508.64,399.64 509.16,391.06 509.68,382.82 510.21,376.29 510.73,370.93 511.26,366.68 511.78,363.00 512.30,359.35 512.83,356.21 513.35,353.27 513.88,351.22 514.40,349.69 514.92,348.48 515.45,347.50 515.97,346.73 516.50,346.09 517.02,345.53 517.54,345.03 518.07,344.57 518.59,344.14 519.12,343.72 519.64,343.33 520.16,342.97 520.69,342.63 521.21,342.31 521.74,342.01 522.26,341.71 522.78,341.42 523.31,341.13 523.83,340.85 524.36,340.58 524.88,340.33 525.40,340.11 525.93,339.91 526.45,339.75 526.98,339.63 527.50,339.51 528.02,339.40 528.55,339.30 529.07,339.20 529.60,339.12 530.12,339.05 530.64,339.00"/>
<g fill="#fff" stroke="#16236c" stroke-width="0.65"><circle cx="501.30" cy="519.00" r="2.15"/><circle cx="501.44" cy="517.73" r="2.15"/><circle cx="501.82" cy="514.30" r="2.15"/><circle cx="501.97" cy="515.27" r="2.15"/><circle cx="502.35" cy="517.90" r="2.15"/><circle cx="502.49" cy="516.97" r="2.15"/><circle cx="502.87" cy="514.45" r="2.15"/><circle cx="503.01" cy="512.88" r="2.15"/><circle cx="503.40" cy="508.65" r="2.15"/><circle cx="503.54" cy="506.83" r="2.15"/><circle cx="503.92" cy="501.91" r="2.15"/><circle cx="504.06" cy="498.91" r="2.15"/><circle cx="504.44" cy="490.79" r="2.15"/><circle cx="504.59" cy="486.67" r="2.15"/><circle cx="504.97" cy="475.53" r="2.15"/><circle cx="505.11" cy="471.24" r="2.15"/><circle cx="505.49" cy="459.65" r="2.15"/><circle cx="505.63" cy="456.37" r="2.15"/><circle cx="506.02" cy="447.50" r="2.15"/><circle cx="506.16" cy="444.68" r="2.15"/><circle cx="506.54" cy="437.03" r="2.15"/><circle cx="506.68" cy="434.45" r="2.15"/><circle cx="507.06" cy="427.47" r="2.15"/><circle cx="507.21" cy="425.21" r="2.15"/><circle cx="507.59" cy="419.11" r="2.15"/><circle cx="507.73" cy="416.44" r="2.15"/><circle cx="508.11" cy="409.21" r="2.15"/><circle cx="508.25" cy="406.63" r="2.15"/><circle cx="508.64" cy="399.64" r="2.15"/><circle cx="508.78" cy="397.33" r="2.15"/><circle cx="509.16" cy="391.06" r="2.15"/><circle cx="509.30" cy="388.83" r="2.15"/><circle cx="509.68" cy="382.82" r="2.15"/><circle cx="509.83" cy="381.06" r="2.15"/><circle cx="510.21" cy="376.29" r="2.15"/><circle cx="510.35" cy="374.85" r="2.15"/><circle cx="510.73" cy="370.93" r="2.15"/><circle cx="510.87" cy="369.78" r="2.15"/><circle cx="511.26" cy="366.68" r="2.15"/><circle cx="511.40" cy="365.69" r="2.15"/><circle cx="511.78" cy="363.00" r="2.15"/><circle cx="511.92" cy="362.01" r="2.15"/><circle cx="512.30" cy="359.35" r="2.15"/><circle cx="512.45" cy="358.50" r="2.15"/><circle cx="512.83" cy="356.21" r="2.15"/><circle cx="513.35" cy="353.27" r="2.15"/><circle cx="513.88" cy="351.22" r="2.15"/><circle cx="514.40" cy="349.69" r="2.15"/><circle cx="514.92" cy="348.48" r="2.15"/><circle cx="515.45" cy="347.50" r="2.15"/><circle cx="515.97" cy="346.73" r="2.15"/><circle cx="516.50" cy="346.09" r="2.15"/><circle cx="517.02" cy="345.53" r="2.15"/><circle cx="517.54" cy="345.03" r="2.15"/><circle cx="518.07" cy="344.57" r="2.15"/><circle cx="518.59" cy="344.14" r="2.15"/><circle cx="519.12" cy="343.72" r="2.15"/><circle cx="519.64" cy="343.33" r="2.15"/><circle cx="520.16" cy="342.97" r="2.15"/><circle cx="520.69" cy="342.63" r="2.15"/><circle cx="521.21" cy="342.31" r="2.15"/><circle cx="521.74" cy="342.01" r="2.15"/><circle cx="522.26" cy="341.71" r="2.15"/><circle cx="522.78" cy="341.42" r="2.15"/><circle cx="523.31" cy="341.13" r="2.15"/><circle cx="523.83" cy="340.85" r="2.15"/><circle cx="524.36" cy="340.58" r="2.15"/><circle cx="524.88" cy="340.33" r="2.15"/><circle cx="525.40" cy="340.11" r="2.15"/><circle cx="525.93" cy="339.91" r="2.15"/><circle cx="526.45" cy="339.75" r="2.15"/><circle cx="526.98" cy="339.63" r="2.15"/><circle cx="527.50" cy="339.51" r="2.15"/><circle cx="528.02" cy="339.40" r="2.15"/><circle cx="528.55" cy="339.30" r="2.15"/><circle cx="529.07" cy="339.20" r="2.15"/><circle cx="529.60" cy="339.12" r="2.15"/><circle cx="530.12" cy="339.05" r="2.15"/><circle cx="530.64" cy="339.00" r="2.15"/></g>
<polyline fill="none" stroke="#16236c" stroke-width="0.80"  points="561.50,519.00 562.02,514.44 562.55,514.50 563.07,514.50 563.60,511.07 564.12,504.73 564.64,495.98 565.17,481.56 565.69,465.63 566.22,451.74 566.74,440.93 567.26,430.84 567.79,422.51 568.31,413.05 568.84,402.90 569.36,394.63 569.88,385.77 570.41,378.61 570.93,372.85 571.46,368.21 571.98,364.38 572.50,360.71 573.03,357.45 573.55,354.36 574.08,352.09 574.60,350.41 575.12,349.15 575.65,348.13 576.17,347.33 576.70,346.70 577.22,346.15 577.74,345.67 578.27,345.24 578.79,344.85 579.32,344.47 579.84,344.12 580.36,343.79 580.89,343.48 581.41,343.20 581.94,342.93 582.46,342.68 582.98,342.43 583.51,342.19 584.03,341.95 584.56,341.72 585.08,341.50 585.60,341.32 586.13,341.15 586.65,341.02 587.18,340.93 587.70,340.86 588.22,340.79 588.75,340.73 589.27,340.67 589.80,340.63 590.32,340.60 590.84,340.59"/>
<g fill="#fff" stroke="#16236c" stroke-width="0.65"><circle cx="561.50" cy="519.00" r="2.15"/><circle cx="561.64" cy="517.77" r="2.15"/><circle cx="562.02" cy="514.44" r="2.15"/><circle cx="562.55" cy="514.50" r="2.15"/><circle cx="563.07" cy="514.50" r="2.15"/><circle cx="563.21" cy="513.57" r="2.15"/><circle cx="563.60" cy="511.07" r="2.15"/><circle cx="563.74" cy="509.36" r="2.15"/><circle cx="564.12" cy="504.73" r="2.15"/><circle cx="564.26" cy="502.37" r="2.15"/><circle cx="564.64" cy="495.98" r="2.15"/><circle cx="564.79" cy="492.08" r="2.15"/><circle cx="565.17" cy="481.56" r="2.15"/><circle cx="565.31" cy="477.26" r="2.15"/><circle cx="565.69" cy="465.63" r="2.15"/><circle cx="565.83" cy="461.88" r="2.15"/><circle cx="566.22" cy="451.74" r="2.15"/><circle cx="566.36" cy="448.82" r="2.15"/><circle cx="566.74" cy="440.93" r="2.15"/><circle cx="566.88" cy="438.20" r="2.15"/><circle cx="567.26" cy="430.84" r="2.15"/><circle cx="567.41" cy="428.59" r="2.15"/><circle cx="567.79" cy="422.51" r="2.15"/><circle cx="567.93" cy="419.96" r="2.15"/><circle cx="568.31" cy="413.05" r="2.15"/><circle cx="568.45" cy="410.31" r="2.15"/><circle cx="568.84" cy="402.90" r="2.15"/><circle cx="568.98" cy="400.66" r="2.15"/><circle cx="569.36" cy="394.63" r="2.15"/><circle cx="569.50" cy="392.24" r="2.15"/><circle cx="569.88" cy="385.77" r="2.15"/><circle cx="570.03" cy="383.84" r="2.15"/><circle cx="570.41" cy="378.61" r="2.15"/><circle cx="570.55" cy="377.06" r="2.15"/><circle cx="570.93" cy="372.85" r="2.15"/><circle cx="571.07" cy="371.60" r="2.15"/><circle cx="571.46" cy="368.21" r="2.15"/><circle cx="571.60" cy="367.17" r="2.15"/><circle cx="571.98" cy="364.38" r="2.15"/><circle cx="572.12" cy="363.39" r="2.15"/><circle cx="572.50" cy="360.71" r="2.15"/><circle cx="572.65" cy="359.83" r="2.15"/><circle cx="573.03" cy="357.45" r="2.15"/><circle cx="573.17" cy="356.61" r="2.15"/><circle cx="573.55" cy="354.36" r="2.15"/><circle cx="574.08" cy="352.09" r="2.15"/><circle cx="574.60" cy="350.41" r="2.15"/><circle cx="575.12" cy="349.15" r="2.15"/><circle cx="575.65" cy="348.13" r="2.15"/><circle cx="576.17" cy="347.33" r="2.15"/><circle cx="576.70" cy="346.70" r="2.15"/><circle cx="577.22" cy="346.15" r="2.15"/><circle cx="577.74" cy="345.67" r="2.15"/><circle cx="578.27" cy="345.24" r="2.15"/><circle cx="578.79" cy="344.85" r="2.15"/><circle cx="579.32" cy="344.47" r="2.15"/><circle cx="579.84" cy="344.12" r="2.15"/><circle cx="580.36" cy="343.79" r="2.15"/><circle cx="580.89" cy="343.48" r="2.15"/><circle cx="581.41" cy="343.20" r="2.15"/><circle cx="581.94" cy="342.93" r="2.15"/><circle cx="582.46" cy="342.68" r="2.15"/><circle cx="582.98" cy="342.43" r="2.15"/><circle cx="583.51" cy="342.19" r="2.15"/><circle cx="584.03" cy="341.95" r="2.15"/><circle cx="584.56" cy="341.72" r="2.15"/><circle cx="585.08" cy="341.50" r="2.15"/><circle cx="585.60" cy="341.32" r="2.15"/><circle cx="586.13" cy="341.15" r="2.15"/><circle cx="586.65" cy="341.02" r="2.15"/><circle cx="587.18" cy="340.93" r="2.15"/><circle cx="587.70" cy="340.86" r="2.15"/><circle cx="588.22" cy="340.79" r="2.15"/><circle cx="588.75" cy="340.73" r="2.15"/><circle cx="589.27" cy="340.67" r="2.15"/><circle cx="589.80" cy="340.63" r="2.15"/><circle cx="590.32" cy="340.60" r="2.15"/><circle cx="590.84" cy="340.59" r="2.15"/></g>
<polyline fill="none" stroke="#16236c" stroke-width="0.80"  points="621.20,519.00 621.72,515.22 622.25,515.91 622.77,515.39 623.30,515.28 623.82,515.08 624.34,514.96 624.87,514.54 625.39,514.50 625.92,514.50 626.44,509.30 626.96,502.73 627.49,492.31 628.01,477.24 628.54,461.27 629.06,448.68 629.58,438.12 630.11,428.36 630.63,420.10 631.16,410.31 631.68,400.50 632.20,392.06 632.73,383.62 633.25,376.93 633.78,371.45 634.30,367.10 634.82,363.39 635.35,359.73 635.87,356.61 636.40,353.63 636.92,351.55 637.44,350.01 637.97,348.82 638.49,347.85 639.02,347.11 639.54,346.49 640.06,345.96 640.59,345.49 641.11,345.07 641.64,344.68 642.16,344.30 642.68,343.95 643.21,343.62 643.73,343.32 644.26,343.03 644.78,342.77 645.30,342.52 645.83,342.26 646.35,342.01 646.88,341.77 647.40,341.54 647.92,341.33 648.45,341.14 648.97,340.98 649.50,340.85 650.02,340.76 650.54,340.69 651.07,340.62"/>
<g fill="#fff" stroke="#16236c" stroke-width="0.65"><circle cx="621.20" cy="519.00" r="2.15"/><circle cx="621.34" cy="517.98" r="2.15"/><circle cx="621.72" cy="515.22" r="2.15"/><circle cx="622.25" cy="515.91" r="2.15"/><circle cx="622.77" cy="515.39" r="2.15"/><circle cx="623.30" cy="515.28" r="2.15"/><circle cx="623.82" cy="515.08" r="2.15"/><circle cx="624.34" cy="514.96" r="2.15"/><circle cx="624.87" cy="514.54" r="2.15"/><circle cx="625.39" cy="514.50" r="2.15"/><circle cx="625.92" cy="514.50" r="2.15"/><circle cx="626.06" cy="513.10" r="2.15"/><circle cx="626.44" cy="509.30" r="2.15"/><circle cx="626.58" cy="507.53" r="2.15"/><circle cx="626.96" cy="502.73" r="2.15"/><circle cx="627.11" cy="499.92" r="2.15"/><circle cx="627.49" cy="492.31" r="2.15"/><circle cx="627.63" cy="488.24" r="2.15"/><circle cx="628.01" cy="477.24" r="2.15"/><circle cx="628.15" cy="472.93" r="2.15"/><circle cx="628.54" cy="461.27" r="2.15"/><circle cx="628.68" cy="457.87" r="2.15"/><circle cx="629.06" cy="448.68" r="2.15"/><circle cx="629.20" cy="445.83" r="2.15"/><circle cx="629.58" cy="438.12" r="2.15"/><circle cx="629.73" cy="435.48" r="2.15"/><circle cx="630.11" cy="428.36" r="2.15"/><circle cx="630.25" cy="426.13" r="2.15"/><circle cx="630.63" cy="420.10" r="2.15"/><circle cx="630.77" cy="417.46" r="2.15"/><circle cx="631.16" cy="410.31" r="2.15"/><circle cx="631.30" cy="407.66" r="2.15"/><circle cx="631.68" cy="400.50" r="2.15"/><circle cx="631.82" cy="398.22" r="2.15"/><circle cx="632.20" cy="392.06" r="2.15"/><circle cx="632.35" cy="389.78" r="2.15"/><circle cx="632.73" cy="383.62" r="2.15"/><circle cx="632.87" cy="381.81" r="2.15"/><circle cx="633.25" cy="376.93" r="2.15"/><circle cx="633.39" cy="375.45" r="2.15"/><circle cx="633.78" cy="371.45" r="2.15"/><circle cx="633.92" cy="370.28" r="2.15"/><circle cx="634.30" cy="367.10" r="2.15"/><circle cx="634.44" cy="366.10" r="2.15"/><circle cx="634.82" cy="363.39" r="2.15"/><circle cx="634.97" cy="362.40" r="2.15"/><circle cx="635.35" cy="359.73" r="2.15"/><circle cx="635.49" cy="358.89" r="2.15"/><circle cx="635.87" cy="356.61" r="2.15"/><circle cx="636.40" cy="353.63" r="2.15"/><circle cx="636.92" cy="351.55" r="2.15"/><circle cx="637.44" cy="350.01" r="2.15"/><circle cx="637.97" cy="348.82" r="2.15"/><circle cx="638.49" cy="347.85" r="2.15"/><circle cx="639.02" cy="347.11" r="2.15"/><circle cx="639.54" cy="346.49" r="2.15"/><circle cx="640.06" cy="345.96" r="2.15"/><circle cx="640.59" cy="345.49" r="2.15"/><circle cx="641.11" cy="345.07" r="2.15"/><circle cx="641.64" cy="344.68" r="2.15"/><circle cx="642.16" cy="344.30" r="2.15"/><circle cx="642.68" cy="343.95" r="2.15"/><circle cx="643.21" cy="343.62" r="2.15"/><circle cx="643.73" cy="343.32" r="2.15"/><circle cx="644.26" cy="343.03" r="2.15"/><circle cx="644.78" cy="342.77" r="2.15"/><circle cx="645.30" cy="342.52" r="2.15"/><circle cx="645.83" cy="342.26" r="2.15"/><circle cx="646.35" cy="342.01" r="2.15"/><circle cx="646.88" cy="341.77" r="2.15"/><circle cx="647.40" cy="341.54" r="2.15"/><circle cx="647.92" cy="341.33" r="2.15"/><circle cx="648.45" cy="341.14" r="2.15"/><circle cx="648.97" cy="340.98" r="2.15"/><circle cx="649.50" cy="340.85" r="2.15"/><circle cx="650.02" cy="340.76" r="2.15"/><circle cx="650.54" cy="340.69" r="2.15"/><circle cx="651.07" cy="340.62" r="2.15"/></g>
<g stroke="#181818" stroke-width="1.35" stroke-linecap="square"><line x1="50.30" y1="308.92" x2="50.30" y2="523.60"/><line x1="50.30" y1="523.60" x2="46.10" y2="523.60"/><line x1="50.30" y1="487.82" x2="46.10" y2="487.82"/><line x1="50.30" y1="452.04" x2="46.10" y2="452.04"/><line x1="50.30" y1="416.26" x2="46.10" y2="416.26"/><line x1="50.30" y1="380.48" x2="46.10" y2="380.48"/><line x1="50.30" y1="344.70" x2="46.10" y2="344.70"/><line x1="50.30" y1="308.92" x2="46.10" y2="308.92"/><line x1="50.30" y1="505.71" x2="47.80" y2="505.71"/><line x1="50.30" y1="469.93" x2="47.80" y2="469.93"/><line x1="50.30" y1="434.15" x2="47.80" y2="434.15"/><line x1="50.30" y1="398.37" x2="47.80" y2="398.37"/><line x1="50.30" y1="362.59" x2="47.80" y2="362.59"/><line x1="50.30" y1="326.81" x2="47.80" y2="326.81"/><line x1="50.30" y1="523.60" x2="679.10" y2="523.60"/><line x1="50.30" y1="523.60" x2="50.30" y2="527.80"/><line x1="128.90" y1="523.60" x2="128.90" y2="527.80"/><line x1="207.50" y1="523.60" x2="207.50" y2="527.80"/><line x1="286.10" y1="523.60" x2="286.10" y2="527.80"/><line x1="364.70" y1="523.60" x2="364.70" y2="527.80"/><line x1="443.30" y1="523.60" x2="443.30" y2="527.80"/><line x1="521.90" y1="523.60" x2="521.90" y2="527.80"/><line x1="600.50" y1="523.60" x2="600.50" y2="527.80"/><line x1="679.10" y1="523.60" x2="679.10" y2="527.80"/><line x1="89.60" y1="523.60" x2="89.60" y2="526.10"/><line x1="168.20" y1="523.60" x2="168.20" y2="526.10"/><line x1="246.80" y1="523.60" x2="246.80" y2="526.10"/><line x1="325.40" y1="523.60" x2="325.40" y2="526.10"/><line x1="404.00" y1="523.60" x2="404.00" y2="526.10"/><line x1="482.60" y1="523.60" x2="482.60" y2="526.10"/><line x1="561.20" y1="523.60" x2="561.20" y2="526.10"/><line x1="639.80" y1="523.60" x2="639.80" y2="526.10"/><line x1="679.10" y1="308.92" x2="679.10" y2="523.60"/><line x1="679.10" y1="523.60" x2="683.30" y2="523.60"/><line x1="679.10" y1="492.93" x2="683.30" y2="492.93"/><line x1="679.10" y1="462.26" x2="683.30" y2="462.26"/><line x1="679.10" y1="431.59" x2="683.30" y2="431.59"/><line x1="679.10" y1="400.93" x2="683.30" y2="400.93"/><line x1="679.10" y1="370.26" x2="683.30" y2="370.26"/><line x1="679.10" y1="339.59" x2="683.30" y2="339.59"/><line x1="679.10" y1="308.92" x2="683.30" y2="308.92"/><line x1="679.10" y1="508.27" x2="681.60" y2="508.27"/><line x1="679.10" y1="477.60" x2="681.60" y2="477.60"/><line x1="679.10" y1="446.93" x2="681.60" y2="446.93"/><line x1="679.10" y1="416.26" x2="681.60" y2="416.26"/><line x1="679.10" y1="385.59" x2="681.60" y2="385.59"/><line x1="679.10" y1="354.92" x2="681.60" y2="354.92"/><line x1="679.10" y1="324.25" x2="681.60" y2="324.25"/></g>
<g fill="#121212" font-family='"Liberation Sans", sans-serif'><text x="42.60" y="230.10" font-size="13" text-anchor="end" font-weight="normal" >0</text><text x="42.60" y="194.40" font-size="13" text-anchor="end" font-weight="normal" >2</text><text x="42.60" y="158.70" font-size="13" text-anchor="end" font-weight="normal" >4</text><text x="42.60" y="123.00" font-size="13" text-anchor="end" font-weight="normal" >6</text><text x="42.60" y="87.30" font-size="13" text-anchor="end" font-weight="normal" >8</text><text x="42.60" y="51.60" font-size="13" text-anchor="end" font-weight="normal" >10</text><text x="42.60" y="15.90" font-size="13" text-anchor="end" font-weight="normal" >12</text><text x="50.30" y="243.60" font-size="13" text-anchor="middle" font-weight="normal" >0</text><text x="76.50" y="243.60" font-size="13" text-anchor="middle" font-weight="normal" >1</text><text x="102.70" y="243.60" font-size="13" text-anchor="middle" font-weight="normal" >2</text><text x="128.90" y="243.60" font-size="13" text-anchor="middle" font-weight="normal" >3</text><text x="155.10" y="243.60" font-size="13" text-anchor="middle" font-weight="normal" >4</text><text x="181.30" y="243.60" font-size="13" text-anchor="middle" font-weight="normal" >5</text><text x="207.50" y="243.60" font-size="13" text-anchor="middle" font-weight="normal" >6</text><text x="233.70" y="243.60" font-size="13" text-anchor="middle" font-weight="normal" >7</text><text x="259.90" y="243.60" font-size="13" text-anchor="middle" font-weight="normal" >8</text><text x="286.10" y="243.60" font-size="13" text-anchor="middle" font-weight="normal" >9</text><text x="312.30" y="243.60" font-size="13" text-anchor="middle" font-weight="normal" >10</text><text x="181.30" y="266.80" font-size="14" text-anchor="middle" font-weight="bold" >Time (h)</text><text x="1.20" y="13.80" font-size="17" text-anchor="start" font-weight="bold" >(a)</text><g transform="translate(16.80,152.30) rotate(-90)" font-weight="bold"><text x="0" y="0" font-size="14" font-style="italic">q</text><text x="8.0" y="-6.0" font-size="8.6" font-style="italic">w</text><text x="7.7" y="2.8" font-size="8.6" font-style="italic">CH</text><text x="22.8" y="6.0" font-size="6">4</text><text x="29.9" y="0" font-size="14">(wt%)</text></g><text x="250.30" y="31.80" font-size="13" text-anchor="start" font-weight="normal" >Formation</text><text x="250.30" y="47.10" font-size="13" text-anchor="start" font-weight="normal" >Dissociation</text><text x="250.30" y="62.60" font-size="13" text-anchor="start" font-weight="normal" >Pressure</text><text x="431.80" y="241.30" font-size="13" text-anchor="middle" font-weight="normal" >ref.</text><text x="455.66" y="241.30" font-size="13" text-anchor="middle" font-weight="normal" >1</text><text x="479.52" y="241.30" font-size="13" text-anchor="middle" font-weight="normal" >2</text><text x="503.38" y="241.30" font-size="13" text-anchor="middle" font-weight="normal" >3</text><text x="527.24" y="241.30" font-size="13" text-anchor="middle" font-weight="normal" >4</text><text x="551.10" y="241.30" font-size="13" text-anchor="middle" font-weight="normal" >5</text><text x="574.96" y="241.30" font-size="13" text-anchor="middle" font-weight="normal" >6</text><text x="598.82" y="241.30" font-size="13" text-anchor="middle" font-weight="normal" >7</text><text x="622.68" y="241.30" font-size="13" text-anchor="middle" font-weight="normal" >8</text><text x="646.54" y="241.30" font-size="13" text-anchor="middle" font-weight="normal" >9</text><text x="670.40" y="241.30" font-size="13" text-anchor="middle" font-weight="normal" >10</text><text x="412.50" y="230.10" font-size="13" text-anchor="end" font-weight="normal" >0</text><text x="412.50" y="194.40" font-size="13" text-anchor="end" font-weight="normal" >2</text><text x="412.50" y="158.70" font-size="13" text-anchor="end" font-weight="normal" >4</text><text x="412.50" y="123.00" font-size="13" text-anchor="end" font-weight="normal" >6</text><text x="412.50" y="87.30" font-size="13" text-anchor="end" font-weight="normal" >8</text><text x="412.50" y="51.60" font-size="13" text-anchor="end" font-weight="normal" >10</text><text x="412.50" y="15.90" font-size="13" text-anchor="end" font-weight="normal" >12</text><text x="551.40" y="263.90" font-size="14" text-anchor="middle" font-weight="bold" >Cycle</text><text x="370.40" y="13.80" font-size="17" text-anchor="start" font-weight="bold" >(b)</text><g transform="translate(386.60,152.60) rotate(-90)" font-weight="bold"><text x="0" y="0" font-size="14" font-style="italic">q</text><text x="8.0" y="-6.0" font-size="8.6" font-style="italic">w</text><text x="7.7" y="2.8" font-size="8.6" font-style="italic">CH</text><text x="22.8" y="6.0" font-size="6">4</text><text x="29.9" y="0" font-size="14">(wt%)</text></g><text x="42.60" y="527.90" font-size="13" text-anchor="end" font-weight="normal" >0</text><text x="42.60" y="492.12" font-size="13" text-anchor="end" font-weight="normal" >2</text><text x="42.60" y="456.34" font-size="13" text-anchor="end" font-weight="normal" >4</text><text x="42.60" y="420.56" font-size="13" text-anchor="end" font-weight="normal" >6</text><text x="42.60" y="384.78" font-size="13" text-anchor="end" font-weight="normal" >8</text><text x="42.60" y="349.00" font-size="13" text-anchor="end" font-weight="normal" >10</text><text x="42.60" y="313.22" font-size="13" text-anchor="end" font-weight="normal" >12</text><text x="50.30" y="541.80" font-size="13" text-anchor="middle" font-weight="normal" >0</text><text x="128.90" y="541.80" font-size="13" text-anchor="middle" font-weight="normal" >5</text><text x="207.50" y="541.80" font-size="13" text-anchor="middle" font-weight="normal" >10</text><text x="286.10" y="541.80" font-size="13" text-anchor="middle" font-weight="normal" >15</text><text x="364.70" y="541.80" font-size="13" text-anchor="middle" font-weight="normal" >20</text><text x="443.30" y="541.80" font-size="13" text-anchor="middle" font-weight="normal" >25</text><text x="521.90" y="541.80" font-size="13" text-anchor="middle" font-weight="normal" >30</text><text x="600.50" y="541.80" font-size="13" text-anchor="middle" font-weight="normal" >35</text><text x="679.10" y="541.80" font-size="13" text-anchor="middle" font-weight="normal" >40</text><text x="685.90" y="527.90" font-size="13" text-anchor="start" font-weight="normal" >0.0</text><text x="685.90" y="497.23" font-size="13" text-anchor="start" font-weight="normal" >1.0</text><text x="685.90" y="466.56" font-size="13" text-anchor="start" font-weight="normal" >2.0</text><text x="685.90" y="435.89" font-size="13" text-anchor="start" font-weight="normal" >3.0</text><text x="685.90" y="405.23" font-size="13" text-anchor="start" font-weight="normal" >4.0</text><text x="685.90" y="374.56" font-size="13" text-anchor="start" font-weight="normal" >5.0</text><text x="685.90" y="343.89" font-size="13" text-anchor="start" font-weight="normal" >6.0</text><text x="685.90" y="313.22" font-size="13" text-anchor="start" font-weight="normal" >7.0</text><text x="365.10" y="564.90" font-size="14" text-anchor="middle" font-weight="bold" >Time (h)</text><text x="0.70" y="311.30" font-size="17" text-anchor="start" font-weight="bold" >(c)</text><g transform="translate(14.00,449.80) rotate(-90)" font-weight="bold"><text x="0" y="0" font-size="14" font-style="italic">q</text><text x="8.0" y="-6.0" font-size="8.6" font-style="italic">w</text><text x="7.7" y="2.8" font-size="8.6" font-style="italic">CH</text><text x="22.8" y="6.0" font-size="6">4</text><text x="29.9" y="0" font-size="14">(wt%)</text></g><text transform="translate(719.4,413.3) rotate(-90)" font-size="14" font-weight="bold" text-anchor="middle">Pressure (MPa)</text></g>
</g>
</svg>
</body></html>
